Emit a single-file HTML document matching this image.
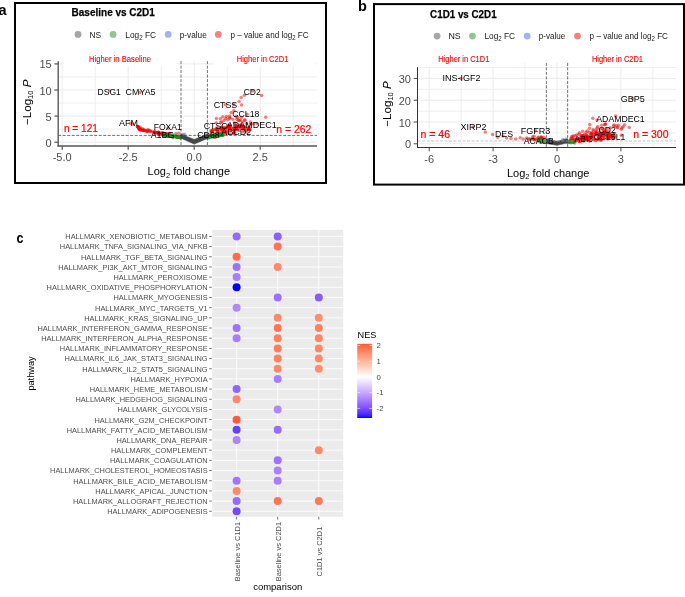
<!DOCTYPE html>
<html><head><meta charset="utf-8"><style>
html,body{margin:0;padding:0;background:#fff;width:685px;height:597px;overflow:hidden}
svg{display:block;will-change:transform} text{font-family:"Liberation Sans",sans-serif}
</style></head><body>
<svg width="685" height="597" viewBox="0 0 685 597" font-family='"Liberation Sans", sans-serif'><defs><linearGradient id="nes" x1="0" y1="0" x2="0" y2="1"><stop offset="0.000" stop-color="#ff5939"/><stop offset="0.025" stop-color="#ff6543"/><stop offset="0.050" stop-color="#ff6f4e"/><stop offset="0.075" stop-color="#ff7a58"/><stop offset="0.100" stop-color="#ff8363"/><stop offset="0.125" stop-color="#ff8d6e"/><stop offset="0.150" stop-color="#ff9679"/><stop offset="0.175" stop-color="#ffa083"/><stop offset="0.200" stop-color="#ffa98e"/><stop offset="0.225" stop-color="#ffb299"/><stop offset="0.250" stop-color="#ffbba4"/><stop offset="0.275" stop-color="#ffc3b0"/><stop offset="0.300" stop-color="#ffccbb"/><stop offset="0.325" stop-color="#ffd5c6"/><stop offset="0.350" stop-color="#ffded2"/><stop offset="0.375" stop-color="#ffe6dd"/><stop offset="0.400" stop-color="#ffefe9"/><stop offset="0.425" stop-color="#fff7f5"/><stop offset="0.450" stop-color="#fefeff"/><stop offset="0.475" stop-color="#f8f3ff"/><stop offset="0.500" stop-color="#f2e8ff"/><stop offset="0.525" stop-color="#ecdeff"/><stop offset="0.550" stop-color="#e5d3ff"/><stop offset="0.575" stop-color="#dfc9ff"/><stop offset="0.600" stop-color="#d8beff"/><stop offset="0.625" stop-color="#d1b4ff"/><stop offset="0.650" stop-color="#caa9ff"/><stop offset="0.675" stop-color="#c29fff"/><stop offset="0.700" stop-color="#ba95ff"/><stop offset="0.725" stop-color="#b28bff"/><stop offset="0.750" stop-color="#aa80ff"/><stop offset="0.775" stop-color="#a176ff"/><stop offset="0.800" stop-color="#986cff"/><stop offset="0.825" stop-color="#8e61ff"/><stop offset="0.850" stop-color="#8357ff"/><stop offset="0.875" stop-color="#784cff"/><stop offset="0.900" stop-color="#6b41ff"/><stop offset="0.925" stop-color="#5d35ff"/><stop offset="0.950" stop-color="#4c28ff"/><stop offset="0.975" stop-color="#3519ff"/><stop offset="1.000" stop-color="#0000ff"/></linearGradient></defs><rect x="15.00" y="3.00" width="311.00" height="180.00" fill="none" stroke="#000" stroke-width="2"/>
<text x="-1.60" y="14.70" font-size="14.5" fill="#000" font-weight="bold">a</text>
<text x="71.60" y="15.90" font-size="11.5" fill="#000" font-weight="bold" textLength="83.30" lengthAdjust="spacingAndGlyphs" stroke="#000" stroke-width="0.25">Baseline vs C2D1</text>
<circle cx="78.00" cy="34.40" r="3.4" fill="#4D4D4D" fill-opacity="0.5"/>
<text x="89.50" y="37.50" font-size="8.8" fill="#1A1A1A" textLength="11.70" lengthAdjust="spacingAndGlyphs">NS</text>
<circle cx="113.10" cy="34.40" r="3.4" fill="#228B22" fill-opacity="0.5"/>
<text x="125.30" y="37.50" font-size="8.8" fill="#1A1A1A" textLength="30.70" lengthAdjust="spacingAndGlyphs">Log<tspan font-size="6.5" dy="2">2</tspan><tspan dy="-2"> FC</tspan></text>
<circle cx="168.20" cy="34.40" r="3.4" fill="#4169E1" fill-opacity="0.5"/>
<text x="179.70" y="37.50" font-size="8.8" fill="#1A1A1A" textLength="27.10" lengthAdjust="spacingAndGlyphs">p-value</text>
<circle cx="218.30" cy="34.40" r="3.4" fill="#EE0000" fill-opacity="0.5"/>
<text x="230.40" y="37.50" font-size="8.8" fill="#1A1A1A" textLength="78.30" lengthAdjust="spacingAndGlyphs">p &#8211; value and log<tspan font-size="6.5" dy="2">2</tspan><tspan dy="-2"> FC</tspan></text>
<line x1="62.20" y1="61.10" x2="62.20" y2="145.95" stroke="#EBEBEB" stroke-width="1.0"/>
<line x1="128.20" y1="61.10" x2="128.20" y2="145.95" stroke="#EBEBEB" stroke-width="1.0"/>
<line x1="194.20" y1="61.10" x2="194.20" y2="145.95" stroke="#EBEBEB" stroke-width="1.0"/>
<line x1="260.20" y1="61.10" x2="260.20" y2="145.95" stroke="#EBEBEB" stroke-width="1.0"/>
<line x1="95.20" y1="61.10" x2="95.20" y2="145.95" stroke="#EBEBEB" stroke-width="0.85"/>
<line x1="161.20" y1="61.10" x2="161.20" y2="145.95" stroke="#EBEBEB" stroke-width="0.85"/>
<line x1="227.20" y1="61.10" x2="227.20" y2="145.95" stroke="#EBEBEB" stroke-width="0.85"/>
<line x1="293.20" y1="61.10" x2="293.20" y2="145.95" stroke="#EBEBEB" stroke-width="0.85"/>
<line x1="58.20" y1="142.20" x2="317.00" y2="142.20" stroke="#EBEBEB" stroke-width="1.0"/>
<line x1="58.20" y1="116.10" x2="317.00" y2="116.10" stroke="#EBEBEB" stroke-width="1.0"/>
<line x1="58.20" y1="90.00" x2="317.00" y2="90.00" stroke="#EBEBEB" stroke-width="1.0"/>
<line x1="58.20" y1="63.90" x2="317.00" y2="63.90" stroke="#EBEBEB" stroke-width="1.0"/>
<line x1="58.20" y1="129.15" x2="317.00" y2="129.15" stroke="#EBEBEB" stroke-width="0.85"/>
<line x1="58.20" y1="103.05" x2="317.00" y2="103.05" stroke="#EBEBEB" stroke-width="0.85"/>
<line x1="58.20" y1="76.95" x2="317.00" y2="76.95" stroke="#EBEBEB" stroke-width="0.85"/>
<rect x="63.7" y="60" width="112.7" height="6.799999999999997" fill="#fff"/>
<rect x="214" y="60" width="101.80000000000001" height="6.799999999999997" fill="#fff"/>
<text x="89.10" y="61.60" font-size="8.2" fill="#FF0000" textLength="61.90" lengthAdjust="spacingAndGlyphs" stroke="#FF0000" stroke-width="0.12">Higher in Baseline</text>
<text x="236.70" y="61.60" font-size="8.2" fill="#FF0000" textLength="51.80" lengthAdjust="spacingAndGlyphs" stroke="#FF0000" stroke-width="0.12">Higher in C2D1</text>
<circle cx="146.75" cy="131.16" r="1.75" fill="#EE0000" fill-opacity="0.5"/>
<circle cx="138.31" cy="127.38" r="1.75" fill="#EE0000" fill-opacity="0.5"/>
<circle cx="138.19" cy="127.10" r="1.75" fill="#EE0000" fill-opacity="0.5"/>
<circle cx="150.41" cy="131.33" r="1.75" fill="#EE0000" fill-opacity="0.5"/>
<circle cx="150.05" cy="130.86" r="1.75" fill="#EE0000" fill-opacity="0.5"/>
<circle cx="142.49" cy="128.79" r="1.75" fill="#EE0000" fill-opacity="0.5"/>
<circle cx="154.56" cy="133.40" r="1.75" fill="#EE0000" fill-opacity="0.5"/>
<circle cx="138.18" cy="126.41" r="1.75" fill="#EE0000" fill-opacity="0.5"/>
<circle cx="140.44" cy="129.69" r="1.75" fill="#EE0000" fill-opacity="0.5"/>
<circle cx="163.73" cy="134.38" r="1.75" fill="#EE0000" fill-opacity="0.5"/>
<circle cx="157.10" cy="133.33" r="1.75" fill="#EE0000" fill-opacity="0.5"/>
<circle cx="138.56" cy="127.39" r="1.75" fill="#EE0000" fill-opacity="0.5"/>
<circle cx="158.58" cy="133.22" r="1.75" fill="#EE0000" fill-opacity="0.5"/>
<circle cx="155.26" cy="132.63" r="1.75" fill="#EE0000" fill-opacity="0.5"/>
<circle cx="162.73" cy="133.13" r="1.75" fill="#EE0000" fill-opacity="0.5"/>
<circle cx="154.52" cy="132.19" r="1.75" fill="#EE0000" fill-opacity="0.5"/>
<circle cx="160.33" cy="134.87" r="1.75" fill="#EE0000" fill-opacity="0.5"/>
<circle cx="139.14" cy="129.27" r="1.75" fill="#EE0000" fill-opacity="0.5"/>
<circle cx="140.43" cy="129.40" r="1.75" fill="#EE0000" fill-opacity="0.5"/>
<circle cx="158.42" cy="132.15" r="1.75" fill="#EE0000" fill-opacity="0.5"/>
<circle cx="165.46" cy="134.80" r="1.75" fill="#EE0000" fill-opacity="0.5"/>
<circle cx="155.52" cy="132.24" r="1.75" fill="#EE0000" fill-opacity="0.5"/>
<circle cx="164.72" cy="133.54" r="1.75" fill="#EE0000" fill-opacity="0.5"/>
<circle cx="158.68" cy="133.26" r="1.75" fill="#EE0000" fill-opacity="0.5"/>
<circle cx="158.21" cy="132.78" r="1.75" fill="#EE0000" fill-opacity="0.5"/>
<circle cx="144.79" cy="130.80" r="1.75" fill="#EE0000" fill-opacity="0.5"/>
<circle cx="137.32" cy="126.21" r="1.75" fill="#EE0000" fill-opacity="0.5"/>
<circle cx="140.04" cy="129.12" r="1.75" fill="#EE0000" fill-opacity="0.5"/>
<circle cx="139.83" cy="129.68" r="1.75" fill="#EE0000" fill-opacity="0.5"/>
<circle cx="165.78" cy="134.25" r="1.75" fill="#EE0000" fill-opacity="0.5"/>
<circle cx="154.68" cy="131.44" r="1.75" fill="#EE0000" fill-opacity="0.5"/>
<circle cx="165.18" cy="134.50" r="1.75" fill="#EE0000" fill-opacity="0.5"/>
<circle cx="148.27" cy="129.67" r="1.75" fill="#EE0000" fill-opacity="0.5"/>
<circle cx="140.58" cy="129.78" r="1.75" fill="#EE0000" fill-opacity="0.5"/>
<circle cx="142.95" cy="129.97" r="1.75" fill="#EE0000" fill-opacity="0.5"/>
<circle cx="144.68" cy="130.09" r="1.75" fill="#EE0000" fill-opacity="0.5"/>
<circle cx="147.39" cy="130.13" r="1.75" fill="#EE0000" fill-opacity="0.5"/>
<circle cx="158.75" cy="132.96" r="1.75" fill="#EE0000" fill-opacity="0.5"/>
<circle cx="159.27" cy="133.40" r="1.75" fill="#EE0000" fill-opacity="0.5"/>
<circle cx="162.68" cy="132.72" r="1.75" fill="#EE0000" fill-opacity="0.5"/>
<circle cx="148.76" cy="131.04" r="1.75" fill="#EE0000" fill-opacity="0.5"/>
<circle cx="157.31" cy="132.85" r="1.75" fill="#EE0000" fill-opacity="0.5"/>
<circle cx="142.64" cy="130.21" r="1.75" fill="#EE0000" fill-opacity="0.5"/>
<circle cx="138.32" cy="126.96" r="1.75" fill="#EE0000" fill-opacity="0.5"/>
<circle cx="139.18" cy="128.42" r="1.75" fill="#EE0000" fill-opacity="0.5"/>
<circle cx="165.47" cy="133.72" r="1.75" fill="#EE0000" fill-opacity="0.5"/>
<circle cx="143.84" cy="130.48" r="1.75" fill="#EE0000" fill-opacity="0.5"/>
<circle cx="140.24" cy="127.37" r="1.75" fill="#EE0000" fill-opacity="0.5"/>
<circle cx="151.28" cy="131.51" r="1.75" fill="#EE0000" fill-opacity="0.5"/>
<circle cx="139.11" cy="128.73" r="1.75" fill="#EE0000" fill-opacity="0.5"/>
<circle cx="164.04" cy="133.83" r="1.75" fill="#EE0000" fill-opacity="0.5"/>
<circle cx="168.12" cy="134.23" r="1.75" fill="#EE0000" fill-opacity="0.5"/>
<circle cx="154.41" cy="132.25" r="1.75" fill="#EE0000" fill-opacity="0.5"/>
<circle cx="169.55" cy="133.70" r="1.75" fill="#EE0000" fill-opacity="0.5"/>
<circle cx="144.19" cy="130.34" r="1.75" fill="#EE0000" fill-opacity="0.5"/>
<circle cx="161.51" cy="133.23" r="1.75" fill="#EE0000" fill-opacity="0.5"/>
<circle cx="146.79" cy="131.57" r="1.75" fill="#EE0000" fill-opacity="0.5"/>
<circle cx="169.80" cy="133.57" r="1.75" fill="#EE0000" fill-opacity="0.5"/>
<circle cx="163.62" cy="133.24" r="1.75" fill="#EE0000" fill-opacity="0.5"/>
<circle cx="153.13" cy="132.03" r="1.75" fill="#EE0000" fill-opacity="0.5"/>
<circle cx="137.57" cy="126.73" r="1.75" fill="#EE0000" fill-opacity="0.5"/>
<circle cx="159.55" cy="132.88" r="1.75" fill="#EE0000" fill-opacity="0.5"/>
<circle cx="168.54" cy="134.11" r="1.75" fill="#EE0000" fill-opacity="0.5"/>
<circle cx="147.95" cy="131.13" r="1.75" fill="#EE0000" fill-opacity="0.5"/>
<circle cx="142.19" cy="130.47" r="1.75" fill="#EE0000" fill-opacity="0.5"/>
<circle cx="166.69" cy="133.49" r="1.75" fill="#EE0000" fill-opacity="0.5"/>
<circle cx="157.89" cy="132.62" r="1.75" fill="#EE0000" fill-opacity="0.5"/>
<circle cx="158.56" cy="132.33" r="1.75" fill="#EE0000" fill-opacity="0.5"/>
<circle cx="161.07" cy="133.39" r="1.75" fill="#EE0000" fill-opacity="0.5"/>
<circle cx="162.35" cy="134.46" r="1.75" fill="#EE0000" fill-opacity="0.5"/>
<circle cx="109.60" cy="91.10" r="1.75" fill="#EE0000" fill-opacity="0.5"/>
<circle cx="139.90" cy="92.50" r="1.75" fill="#EE0000" fill-opacity="0.5"/>
<circle cx="130.30" cy="123.20" r="1.75" fill="#EE0000" fill-opacity="0.5"/>
<circle cx="133.00" cy="124.00" r="1.75" fill="#EE0000" fill-opacity="0.5"/>
<circle cx="178.90" cy="133.20" r="1.75" fill="#EE0000" fill-opacity="0.5"/>
<circle cx="176.00" cy="133.50" r="1.75" fill="#EE0000" fill-opacity="0.5"/>
<circle cx="168.00" cy="128.30" r="1.75" fill="#EE0000" fill-opacity="0.5"/>
<circle cx="229.42" cy="133.61" r="1.75" fill="#EE0000" fill-opacity="0.5"/>
<circle cx="225.90" cy="127.97" r="1.75" fill="#EE0000" fill-opacity="0.5"/>
<circle cx="222.21" cy="130.18" r="1.75" fill="#EE0000" fill-opacity="0.5"/>
<circle cx="237.72" cy="127.17" r="1.75" fill="#EE0000" fill-opacity="0.5"/>
<circle cx="229.72" cy="127.27" r="1.75" fill="#EE0000" fill-opacity="0.5"/>
<circle cx="243.90" cy="127.62" r="1.75" fill="#EE0000" fill-opacity="0.5"/>
<circle cx="216.96" cy="134.77" r="1.75" fill="#EE0000" fill-opacity="0.5"/>
<circle cx="229.31" cy="127.03" r="1.75" fill="#EE0000" fill-opacity="0.5"/>
<circle cx="217.05" cy="130.13" r="1.75" fill="#EE0000" fill-opacity="0.5"/>
<circle cx="213.59" cy="129.81" r="1.75" fill="#EE0000" fill-opacity="0.5"/>
<circle cx="248.92" cy="128.94" r="1.75" fill="#EE0000" fill-opacity="0.5"/>
<circle cx="215.35" cy="137.13" r="1.75" fill="#EE0000" fill-opacity="0.5"/>
<circle cx="240.58" cy="124.93" r="1.75" fill="#EE0000" fill-opacity="0.5"/>
<circle cx="236.90" cy="129.61" r="1.75" fill="#EE0000" fill-opacity="0.5"/>
<circle cx="223.82" cy="128.98" r="1.75" fill="#EE0000" fill-opacity="0.5"/>
<circle cx="219.59" cy="129.24" r="1.75" fill="#EE0000" fill-opacity="0.5"/>
<circle cx="223.05" cy="135.59" r="1.75" fill="#EE0000" fill-opacity="0.5"/>
<circle cx="243.99" cy="130.34" r="1.75" fill="#EE0000" fill-opacity="0.5"/>
<circle cx="215.69" cy="129.42" r="1.75" fill="#EE0000" fill-opacity="0.5"/>
<circle cx="248.40" cy="127.97" r="1.75" fill="#EE0000" fill-opacity="0.5"/>
<circle cx="222.26" cy="128.18" r="1.75" fill="#EE0000" fill-opacity="0.5"/>
<circle cx="218.80" cy="134.17" r="1.75" fill="#EE0000" fill-opacity="0.5"/>
<circle cx="221.24" cy="128.22" r="1.75" fill="#EE0000" fill-opacity="0.5"/>
<circle cx="217.52" cy="130.92" r="1.75" fill="#EE0000" fill-opacity="0.5"/>
<circle cx="224.39" cy="127.89" r="1.75" fill="#EE0000" fill-opacity="0.5"/>
<circle cx="226.35" cy="131.16" r="1.75" fill="#EE0000" fill-opacity="0.5"/>
<circle cx="234.33" cy="128.93" r="1.75" fill="#EE0000" fill-opacity="0.5"/>
<circle cx="221.38" cy="129.39" r="1.75" fill="#EE0000" fill-opacity="0.5"/>
<circle cx="242.20" cy="125.57" r="1.75" fill="#EE0000" fill-opacity="0.5"/>
<circle cx="215.88" cy="134.66" r="1.75" fill="#EE0000" fill-opacity="0.5"/>
<circle cx="211.34" cy="131.23" r="1.75" fill="#EE0000" fill-opacity="0.5"/>
<circle cx="238.94" cy="130.53" r="1.75" fill="#EE0000" fill-opacity="0.5"/>
<circle cx="217.54" cy="130.13" r="1.75" fill="#EE0000" fill-opacity="0.5"/>
<circle cx="234.91" cy="133.60" r="1.75" fill="#EE0000" fill-opacity="0.5"/>
<circle cx="236.90" cy="126.14" r="1.75" fill="#EE0000" fill-opacity="0.5"/>
<circle cx="244.84" cy="128.47" r="1.75" fill="#EE0000" fill-opacity="0.5"/>
<circle cx="232.51" cy="129.54" r="1.75" fill="#EE0000" fill-opacity="0.5"/>
<circle cx="240.21" cy="127.19" r="1.75" fill="#EE0000" fill-opacity="0.5"/>
<circle cx="218.13" cy="127.81" r="1.75" fill="#EE0000" fill-opacity="0.5"/>
<circle cx="213.90" cy="136.44" r="1.75" fill="#EE0000" fill-opacity="0.5"/>
<circle cx="233.02" cy="128.91" r="1.75" fill="#EE0000" fill-opacity="0.5"/>
<circle cx="229.83" cy="127.62" r="1.75" fill="#EE0000" fill-opacity="0.5"/>
<circle cx="248.86" cy="129.53" r="1.75" fill="#EE0000" fill-opacity="0.5"/>
<circle cx="245.98" cy="130.56" r="1.75" fill="#EE0000" fill-opacity="0.5"/>
<circle cx="218.70" cy="135.00" r="1.75" fill="#EE0000" fill-opacity="0.5"/>
<circle cx="233.83" cy="132.87" r="1.75" fill="#EE0000" fill-opacity="0.5"/>
<circle cx="216.79" cy="129.48" r="1.75" fill="#EE0000" fill-opacity="0.5"/>
<circle cx="218.47" cy="132.59" r="1.75" fill="#EE0000" fill-opacity="0.5"/>
<circle cx="236.32" cy="127.25" r="1.75" fill="#EE0000" fill-opacity="0.5"/>
<circle cx="237.52" cy="127.00" r="1.75" fill="#EE0000" fill-opacity="0.5"/>
<circle cx="221.05" cy="127.25" r="1.75" fill="#EE0000" fill-opacity="0.5"/>
<circle cx="242.79" cy="131.90" r="1.75" fill="#EE0000" fill-opacity="0.5"/>
<circle cx="224.79" cy="131.93" r="1.75" fill="#EE0000" fill-opacity="0.5"/>
<circle cx="235.76" cy="125.73" r="1.75" fill="#EE0000" fill-opacity="0.5"/>
<circle cx="214.37" cy="133.89" r="1.75" fill="#EE0000" fill-opacity="0.5"/>
<circle cx="225.44" cy="128.32" r="1.75" fill="#EE0000" fill-opacity="0.5"/>
<circle cx="221.06" cy="132.15" r="1.75" fill="#EE0000" fill-opacity="0.5"/>
<circle cx="223.07" cy="130.12" r="1.75" fill="#EE0000" fill-opacity="0.5"/>
<circle cx="223.37" cy="127.16" r="1.75" fill="#EE0000" fill-opacity="0.5"/>
<circle cx="239.76" cy="127.25" r="1.75" fill="#EE0000" fill-opacity="0.5"/>
<circle cx="227.74" cy="126.69" r="1.75" fill="#EE0000" fill-opacity="0.5"/>
<circle cx="211.01" cy="132.90" r="1.75" fill="#EE0000" fill-opacity="0.5"/>
<circle cx="223.69" cy="131.31" r="1.75" fill="#EE0000" fill-opacity="0.5"/>
<circle cx="211.90" cy="131.12" r="1.75" fill="#EE0000" fill-opacity="0.5"/>
<circle cx="228.72" cy="125.22" r="1.75" fill="#EE0000" fill-opacity="0.5"/>
<circle cx="248.68" cy="129.74" r="1.75" fill="#EE0000" fill-opacity="0.5"/>
<circle cx="244.11" cy="126.66" r="1.75" fill="#EE0000" fill-opacity="0.5"/>
<circle cx="242.36" cy="127.50" r="1.75" fill="#EE0000" fill-opacity="0.5"/>
<circle cx="244.31" cy="126.97" r="1.75" fill="#EE0000" fill-opacity="0.5"/>
<circle cx="216.82" cy="129.90" r="1.75" fill="#EE0000" fill-opacity="0.5"/>
<circle cx="230.31" cy="129.68" r="1.75" fill="#EE0000" fill-opacity="0.5"/>
<circle cx="241.09" cy="125.01" r="1.75" fill="#EE0000" fill-opacity="0.5"/>
<circle cx="233.98" cy="131.93" r="1.75" fill="#EE0000" fill-opacity="0.5"/>
<circle cx="235.22" cy="128.63" r="1.75" fill="#EE0000" fill-opacity="0.5"/>
<circle cx="225.90" cy="132.37" r="1.75" fill="#EE0000" fill-opacity="0.5"/>
<circle cx="226.16" cy="133.39" r="1.75" fill="#EE0000" fill-opacity="0.5"/>
<circle cx="227.11" cy="130.42" r="1.75" fill="#EE0000" fill-opacity="0.5"/>
<circle cx="229.03" cy="127.68" r="1.75" fill="#EE0000" fill-opacity="0.5"/>
<circle cx="227.62" cy="126.92" r="1.75" fill="#EE0000" fill-opacity="0.5"/>
<circle cx="228.29" cy="125.95" r="1.75" fill="#EE0000" fill-opacity="0.5"/>
<circle cx="212.78" cy="130.31" r="1.75" fill="#EE0000" fill-opacity="0.5"/>
<circle cx="211.13" cy="130.47" r="1.75" fill="#EE0000" fill-opacity="0.5"/>
<circle cx="229.96" cy="125.05" r="1.75" fill="#EE0000" fill-opacity="0.5"/>
<circle cx="235.64" cy="125.61" r="1.75" fill="#EE0000" fill-opacity="0.5"/>
<circle cx="230.02" cy="125.23" r="1.75" fill="#EE0000" fill-opacity="0.5"/>
<circle cx="229.68" cy="129.60" r="1.75" fill="#EE0000" fill-opacity="0.5"/>
<circle cx="241.03" cy="126.64" r="1.75" fill="#EE0000" fill-opacity="0.5"/>
<circle cx="247.34" cy="128.21" r="1.75" fill="#EE0000" fill-opacity="0.5"/>
<circle cx="243.70" cy="126.44" r="1.75" fill="#EE0000" fill-opacity="0.5"/>
<circle cx="216.37" cy="128.05" r="1.75" fill="#EE0000" fill-opacity="0.5"/>
<circle cx="229.77" cy="128.81" r="1.75" fill="#EE0000" fill-opacity="0.5"/>
<circle cx="214.26" cy="137.14" r="1.75" fill="#EE0000" fill-opacity="0.5"/>
<circle cx="214.59" cy="135.10" r="1.75" fill="#EE0000" fill-opacity="0.5"/>
<circle cx="212.18" cy="131.66" r="1.75" fill="#EE0000" fill-opacity="0.5"/>
<circle cx="235.63" cy="129.36" r="1.75" fill="#EE0000" fill-opacity="0.5"/>
<circle cx="246.28" cy="131.99" r="1.75" fill="#EE0000" fill-opacity="0.5"/>
<circle cx="235.34" cy="129.82" r="1.75" fill="#EE0000" fill-opacity="0.5"/>
<circle cx="242.90" cy="128.07" r="1.75" fill="#EE0000" fill-opacity="0.5"/>
<circle cx="223.21" cy="134.82" r="1.75" fill="#EE0000" fill-opacity="0.5"/>
<circle cx="226.90" cy="126.89" r="1.75" fill="#EE0000" fill-opacity="0.5"/>
<circle cx="240.46" cy="125.15" r="1.75" fill="#EE0000" fill-opacity="0.5"/>
<circle cx="243.89" cy="127.92" r="1.75" fill="#EE0000" fill-opacity="0.5"/>
<circle cx="233.36" cy="133.46" r="1.75" fill="#EE0000" fill-opacity="0.5"/>
<circle cx="234.72" cy="130.34" r="1.75" fill="#EE0000" fill-opacity="0.5"/>
<circle cx="236.39" cy="124.80" r="1.75" fill="#EE0000" fill-opacity="0.5"/>
<circle cx="221.87" cy="122.00" r="1.75" fill="#EE0000" fill-opacity="0.5"/>
<circle cx="237.92" cy="117.45" r="1.75" fill="#EE0000" fill-opacity="0.5"/>
<circle cx="239.45" cy="120.70" r="1.75" fill="#EE0000" fill-opacity="0.5"/>
<circle cx="222.72" cy="116.79" r="1.75" fill="#EE0000" fill-opacity="0.5"/>
<circle cx="216.22" cy="122.66" r="1.75" fill="#EE0000" fill-opacity="0.5"/>
<circle cx="250.34" cy="124.39" r="1.75" fill="#EE0000" fill-opacity="0.5"/>
<circle cx="229.69" cy="118.17" r="1.75" fill="#EE0000" fill-opacity="0.5"/>
<circle cx="236.74" cy="119.20" r="1.75" fill="#EE0000" fill-opacity="0.5"/>
<circle cx="240.41" cy="120.33" r="1.75" fill="#EE0000" fill-opacity="0.5"/>
<circle cx="253.23" cy="123.80" r="1.75" fill="#EE0000" fill-opacity="0.5"/>
<circle cx="229.86" cy="117.85" r="1.75" fill="#EE0000" fill-opacity="0.5"/>
<circle cx="220.78" cy="122.30" r="1.75" fill="#EE0000" fill-opacity="0.5"/>
<circle cx="234.31" cy="122.70" r="1.75" fill="#EE0000" fill-opacity="0.5"/>
<circle cx="225.61" cy="118.60" r="1.75" fill="#EE0000" fill-opacity="0.5"/>
<circle cx="246.45" cy="123.58" r="1.75" fill="#EE0000" fill-opacity="0.5"/>
<circle cx="244.79" cy="120.58" r="1.75" fill="#EE0000" fill-opacity="0.5"/>
<circle cx="261.70" cy="95.40" r="1.75" fill="#EE0000" fill-opacity="0.5"/>
<circle cx="252.60" cy="91.10" r="1.75" fill="#EE0000" fill-opacity="0.5"/>
<circle cx="244.40" cy="95.20" r="1.75" fill="#EE0000" fill-opacity="0.5"/>
<circle cx="241.10" cy="97.50" r="1.75" fill="#EE0000" fill-opacity="0.5"/>
<circle cx="239.10" cy="101.40" r="1.75" fill="#EE0000" fill-opacity="0.5"/>
<circle cx="241.50" cy="104.90" r="1.75" fill="#EE0000" fill-opacity="0.5"/>
<circle cx="233.90" cy="104.80" r="1.75" fill="#EE0000" fill-opacity="0.5"/>
<circle cx="225.50" cy="104.80" r="1.75" fill="#EE0000" fill-opacity="0.5"/>
<circle cx="233.90" cy="110.40" r="1.75" fill="#EE0000" fill-opacity="0.5"/>
<circle cx="231.20" cy="112.60" r="1.75" fill="#EE0000" fill-opacity="0.5"/>
<circle cx="247.10" cy="114.20" r="1.75" fill="#EE0000" fill-opacity="0.5"/>
<circle cx="265.70" cy="117.30" r="1.75" fill="#EE0000" fill-opacity="0.5"/>
<circle cx="216.40" cy="118.40" r="1.75" fill="#EE0000" fill-opacity="0.5"/>
<circle cx="220.30" cy="118.80" r="1.75" fill="#EE0000" fill-opacity="0.5"/>
<circle cx="226.30" cy="116.40" r="1.75" fill="#EE0000" fill-opacity="0.5"/>
<circle cx="229.60" cy="115.90" r="1.75" fill="#EE0000" fill-opacity="0.5"/>
<circle cx="236.10" cy="116.40" r="1.75" fill="#EE0000" fill-opacity="0.5"/>
<circle cx="241.60" cy="117.50" r="1.75" fill="#EE0000" fill-opacity="0.5"/>
<circle cx="244.90" cy="119.70" r="1.75" fill="#EE0000" fill-opacity="0.5"/>
<circle cx="224.10" cy="120.30" r="1.75" fill="#EE0000" fill-opacity="0.5"/>
<circle cx="227.90" cy="119.70" r="1.75" fill="#EE0000" fill-opacity="0.5"/>
<circle cx="232.80" cy="119.20" r="1.75" fill="#EE0000" fill-opacity="0.5"/>
<circle cx="238.30" cy="120.30" r="1.75" fill="#EE0000" fill-opacity="0.5"/>
<circle cx="242.70" cy="121.90" r="1.75" fill="#EE0000" fill-opacity="0.5"/>
<circle cx="250.40" cy="121.90" r="1.75" fill="#EE0000" fill-opacity="0.5"/>
<circle cx="256.90" cy="123.50" r="1.75" fill="#EE0000" fill-opacity="0.5"/>
<circle cx="249.30" cy="127.40" r="1.75" fill="#EE0000" fill-opacity="0.5"/>
<circle cx="250.40" cy="129.60" r="1.75" fill="#EE0000" fill-opacity="0.5"/>
<circle cx="180.31" cy="137.61" r="1.75" fill="#228B22" fill-opacity="0.5"/>
<circle cx="180.02" cy="137.00" r="1.75" fill="#228B22" fill-opacity="0.5"/>
<circle cx="165.57" cy="136.10" r="1.75" fill="#228B22" fill-opacity="0.5"/>
<circle cx="177.77" cy="137.60" r="1.75" fill="#228B22" fill-opacity="0.5"/>
<circle cx="180.53" cy="137.00" r="1.75" fill="#228B22" fill-opacity="0.5"/>
<circle cx="172.90" cy="136.37" r="1.75" fill="#228B22" fill-opacity="0.5"/>
<circle cx="180.31" cy="136.89" r="1.75" fill="#228B22" fill-opacity="0.5"/>
<circle cx="179.39" cy="137.61" r="1.75" fill="#228B22" fill-opacity="0.5"/>
<circle cx="177.91" cy="137.32" r="1.75" fill="#228B22" fill-opacity="0.5"/>
<circle cx="168.29" cy="136.30" r="1.75" fill="#228B22" fill-opacity="0.5"/>
<circle cx="167.56" cy="135.74" r="1.75" fill="#228B22" fill-opacity="0.5"/>
<circle cx="179.23" cy="137.58" r="1.75" fill="#228B22" fill-opacity="0.5"/>
<circle cx="173.69" cy="136.13" r="1.75" fill="#228B22" fill-opacity="0.5"/>
<circle cx="179.24" cy="137.20" r="1.75" fill="#228B22" fill-opacity="0.5"/>
<circle cx="172.66" cy="136.31" r="1.75" fill="#228B22" fill-opacity="0.5"/>
<circle cx="166.70" cy="135.46" r="1.75" fill="#228B22" fill-opacity="0.5"/>
<circle cx="165.75" cy="135.53" r="1.75" fill="#228B22" fill-opacity="0.5"/>
<circle cx="172.89" cy="136.82" r="1.75" fill="#228B22" fill-opacity="0.5"/>
<circle cx="173.02" cy="136.12" r="1.75" fill="#228B22" fill-opacity="0.5"/>
<circle cx="173.09" cy="136.71" r="1.75" fill="#228B22" fill-opacity="0.5"/>
<circle cx="176.61" cy="136.83" r="1.75" fill="#228B22" fill-opacity="0.5"/>
<circle cx="176.89" cy="136.57" r="1.75" fill="#228B22" fill-opacity="0.5"/>
<circle cx="173.76" cy="136.45" r="1.75" fill="#228B22" fill-opacity="0.5"/>
<circle cx="175.20" cy="136.83" r="1.75" fill="#228B22" fill-opacity="0.5"/>
<circle cx="171.93" cy="135.90" r="1.75" fill="#228B22" fill-opacity="0.5"/>
<circle cx="178.94" cy="136.98" r="1.75" fill="#228B22" fill-opacity="0.5"/>
<circle cx="173.47" cy="136.04" r="1.75" fill="#228B22" fill-opacity="0.5"/>
<circle cx="165.64" cy="135.67" r="1.75" fill="#228B22" fill-opacity="0.5"/>
<circle cx="164.31" cy="135.35" r="1.75" fill="#228B22" fill-opacity="0.5"/>
<circle cx="175.15" cy="135.67" r="1.75" fill="#228B22" fill-opacity="0.5"/>
<circle cx="165.71" cy="134.72" r="1.75" fill="#228B22" fill-opacity="0.5"/>
<circle cx="166.01" cy="134.55" r="1.75" fill="#228B22" fill-opacity="0.5"/>
<circle cx="167.17" cy="135.39" r="1.75" fill="#228B22" fill-opacity="0.5"/>
<circle cx="172.20" cy="136.12" r="1.75" fill="#228B22" fill-opacity="0.5"/>
<circle cx="165.66" cy="135.61" r="1.75" fill="#228B22" fill-opacity="0.5"/>
<circle cx="169.17" cy="136.19" r="1.75" fill="#228B22" fill-opacity="0.5"/>
<circle cx="176.28" cy="136.80" r="1.75" fill="#228B22" fill-opacity="0.5"/>
<circle cx="171.13" cy="136.10" r="1.75" fill="#228B22" fill-opacity="0.5"/>
<circle cx="174.15" cy="136.48" r="1.75" fill="#228B22" fill-opacity="0.5"/>
<circle cx="180.87" cy="136.20" r="1.75" fill="#228B22" fill-opacity="0.5"/>
<circle cx="164.88" cy="135.38" r="1.75" fill="#228B22" fill-opacity="0.5"/>
<circle cx="177.01" cy="137.10" r="1.75" fill="#228B22" fill-opacity="0.5"/>
<circle cx="170.95" cy="135.57" r="1.75" fill="#228B22" fill-opacity="0.5"/>
<circle cx="167.95" cy="136.43" r="1.75" fill="#228B22" fill-opacity="0.5"/>
<circle cx="173.24" cy="136.18" r="1.75" fill="#228B22" fill-opacity="0.5"/>
<circle cx="163.95" cy="134.70" r="1.75" fill="#228B22" fill-opacity="0.5"/>
<circle cx="164.60" cy="134.93" r="1.75" fill="#228B22" fill-opacity="0.5"/>
<circle cx="177.81" cy="137.37" r="1.75" fill="#228B22" fill-opacity="0.5"/>
<circle cx="164.36" cy="134.78" r="1.75" fill="#228B22" fill-opacity="0.5"/>
<circle cx="168.62" cy="135.48" r="1.75" fill="#228B22" fill-opacity="0.5"/>
<circle cx="168.01" cy="136.04" r="1.75" fill="#228B22" fill-opacity="0.5"/>
<circle cx="167.40" cy="135.74" r="1.75" fill="#228B22" fill-opacity="0.5"/>
<circle cx="163.96" cy="135.49" r="1.75" fill="#228B22" fill-opacity="0.5"/>
<circle cx="168.50" cy="135.36" r="1.75" fill="#228B22" fill-opacity="0.5"/>
<circle cx="172.09" cy="136.57" r="1.75" fill="#228B22" fill-opacity="0.5"/>
<circle cx="163.33" cy="135.12" r="1.75" fill="#228B22" fill-opacity="0.5"/>
<circle cx="176.06" cy="136.67" r="1.75" fill="#228B22" fill-opacity="0.5"/>
<circle cx="171.64" cy="136.05" r="1.75" fill="#228B22" fill-opacity="0.5"/>
<circle cx="177.50" cy="137.18" r="1.75" fill="#228B22" fill-opacity="0.5"/>
<circle cx="177.81" cy="137.34" r="1.75" fill="#228B22" fill-opacity="0.5"/>
<circle cx="175.58" cy="136.61" r="1.75" fill="#228B22" fill-opacity="0.5"/>
<circle cx="177.90" cy="136.38" r="1.75" fill="#228B22" fill-opacity="0.5"/>
<circle cx="170.24" cy="136.09" r="1.75" fill="#228B22" fill-opacity="0.5"/>
<circle cx="165.67" cy="135.63" r="1.75" fill="#228B22" fill-opacity="0.5"/>
<circle cx="167.65" cy="135.78" r="1.75" fill="#228B22" fill-opacity="0.5"/>
<circle cx="178.37" cy="136.53" r="1.75" fill="#228B22" fill-opacity="0.5"/>
<circle cx="168.08" cy="136.05" r="1.75" fill="#228B22" fill-opacity="0.5"/>
<circle cx="171.40" cy="136.51" r="1.75" fill="#228B22" fill-opacity="0.5"/>
<circle cx="168.32" cy="135.34" r="1.75" fill="#228B22" fill-opacity="0.5"/>
<circle cx="172.87" cy="137.48" r="1.75" fill="#228B22" fill-opacity="0.5"/>
<circle cx="168.57" cy="135.76" r="1.75" fill="#228B22" fill-opacity="0.5"/>
<circle cx="169.61" cy="136.00" r="1.75" fill="#228B22" fill-opacity="0.5"/>
<circle cx="166.60" cy="135.48" r="1.75" fill="#228B22" fill-opacity="0.5"/>
<circle cx="167.95" cy="135.88" r="1.75" fill="#228B22" fill-opacity="0.5"/>
<circle cx="163.94" cy="135.15" r="1.75" fill="#228B22" fill-opacity="0.5"/>
<circle cx="166.95" cy="135.28" r="1.75" fill="#228B22" fill-opacity="0.5"/>
<circle cx="176.31" cy="136.20" r="1.75" fill="#228B22" fill-opacity="0.5"/>
<circle cx="178.67" cy="137.37" r="1.75" fill="#228B22" fill-opacity="0.5"/>
<circle cx="180.94" cy="137.95" r="1.75" fill="#228B22" fill-opacity="0.5"/>
<circle cx="174.99" cy="136.78" r="1.75" fill="#228B22" fill-opacity="0.5"/>
<circle cx="221.07" cy="134.09" r="1.75" fill="#228B22" fill-opacity="0.5"/>
<circle cx="220.27" cy="135.27" r="1.75" fill="#228B22" fill-opacity="0.5"/>
<circle cx="215.54" cy="135.05" r="1.75" fill="#228B22" fill-opacity="0.5"/>
<circle cx="219.91" cy="134.33" r="1.75" fill="#228B22" fill-opacity="0.5"/>
<circle cx="218.04" cy="134.92" r="1.75" fill="#228B22" fill-opacity="0.5"/>
<circle cx="208.13" cy="137.24" r="1.75" fill="#228B22" fill-opacity="0.5"/>
<circle cx="209.28" cy="136.26" r="1.75" fill="#228B22" fill-opacity="0.5"/>
<circle cx="217.01" cy="134.90" r="1.75" fill="#228B22" fill-opacity="0.5"/>
<circle cx="215.51" cy="135.81" r="1.75" fill="#228B22" fill-opacity="0.5"/>
<circle cx="218.83" cy="135.02" r="1.75" fill="#228B22" fill-opacity="0.5"/>
<circle cx="218.07" cy="135.59" r="1.75" fill="#228B22" fill-opacity="0.5"/>
<circle cx="211.58" cy="136.56" r="1.75" fill="#228B22" fill-opacity="0.5"/>
<circle cx="218.92" cy="135.80" r="1.75" fill="#228B22" fill-opacity="0.5"/>
<circle cx="222.40" cy="134.39" r="1.75" fill="#228B22" fill-opacity="0.5"/>
<circle cx="214.79" cy="135.12" r="1.75" fill="#228B22" fill-opacity="0.5"/>
<circle cx="217.02" cy="135.28" r="1.75" fill="#228B22" fill-opacity="0.5"/>
<circle cx="209.78" cy="137.39" r="1.75" fill="#228B22" fill-opacity="0.5"/>
<circle cx="212.20" cy="136.24" r="1.75" fill="#228B22" fill-opacity="0.5"/>
<circle cx="208.40" cy="137.52" r="1.75" fill="#228B22" fill-opacity="0.5"/>
<circle cx="218.16" cy="134.87" r="1.75" fill="#228B22" fill-opacity="0.5"/>
<circle cx="215.28" cy="135.82" r="1.75" fill="#228B22" fill-opacity="0.5"/>
<circle cx="209.46" cy="136.53" r="1.75" fill="#228B22" fill-opacity="0.5"/>
<circle cx="222.70" cy="134.33" r="1.75" fill="#228B22" fill-opacity="0.5"/>
<circle cx="214.89" cy="134.81" r="1.75" fill="#228B22" fill-opacity="0.5"/>
<circle cx="214.47" cy="136.21" r="1.75" fill="#228B22" fill-opacity="0.5"/>
<circle cx="222.23" cy="135.03" r="1.75" fill="#228B22" fill-opacity="0.5"/>
<circle cx="209.15" cy="136.49" r="1.75" fill="#228B22" fill-opacity="0.5"/>
<circle cx="209.68" cy="136.20" r="1.75" fill="#228B22" fill-opacity="0.5"/>
<circle cx="221.20" cy="134.32" r="1.75" fill="#228B22" fill-opacity="0.5"/>
<circle cx="221.37" cy="134.61" r="1.75" fill="#228B22" fill-opacity="0.5"/>
<circle cx="207.31" cy="137.02" r="1.75" fill="#228B22" fill-opacity="0.5"/>
<circle cx="212.33" cy="136.60" r="1.75" fill="#228B22" fill-opacity="0.5"/>
<circle cx="212.42" cy="136.22" r="1.75" fill="#228B22" fill-opacity="0.5"/>
<circle cx="219.21" cy="134.84" r="1.75" fill="#228B22" fill-opacity="0.5"/>
<circle cx="221.75" cy="133.57" r="1.75" fill="#228B22" fill-opacity="0.5"/>
<circle cx="211.85" cy="136.63" r="1.75" fill="#228B22" fill-opacity="0.5"/>
<circle cx="222.80" cy="134.08" r="1.75" fill="#228B22" fill-opacity="0.5"/>
<circle cx="214.15" cy="136.11" r="1.75" fill="#228B22" fill-opacity="0.5"/>
<circle cx="209.18" cy="136.44" r="1.75" fill="#228B22" fill-opacity="0.5"/>
<circle cx="222.00" cy="134.84" r="1.75" fill="#228B22" fill-opacity="0.5"/>
<circle cx="215.52" cy="136.13" r="1.75" fill="#228B22" fill-opacity="0.5"/>
<circle cx="222.63" cy="133.88" r="1.75" fill="#228B22" fill-opacity="0.5"/>
<circle cx="217.75" cy="134.82" r="1.75" fill="#228B22" fill-opacity="0.5"/>
<circle cx="216.02" cy="135.48" r="1.75" fill="#228B22" fill-opacity="0.5"/>
<circle cx="218.50" cy="135.31" r="1.75" fill="#228B22" fill-opacity="0.5"/>
<circle cx="217.49" cy="135.48" r="1.75" fill="#228B22" fill-opacity="0.5"/>
<circle cx="222.05" cy="134.88" r="1.75" fill="#228B22" fill-opacity="0.5"/>
<circle cx="212.74" cy="136.88" r="1.75" fill="#228B22" fill-opacity="0.5"/>
<circle cx="222.61" cy="135.03" r="1.75" fill="#228B22" fill-opacity="0.5"/>
<circle cx="211.97" cy="136.12" r="1.75" fill="#228B22" fill-opacity="0.5"/>
<circle cx="210.18" cy="136.86" r="1.75" fill="#228B22" fill-opacity="0.5"/>
<circle cx="221.39" cy="134.58" r="1.75" fill="#228B22" fill-opacity="0.5"/>
<circle cx="221.80" cy="134.56" r="1.75" fill="#228B22" fill-opacity="0.5"/>
<circle cx="209.71" cy="136.85" r="1.75" fill="#228B22" fill-opacity="0.5"/>
<circle cx="212.96" cy="136.36" r="1.75" fill="#228B22" fill-opacity="0.5"/>
<circle cx="211.09" cy="135.98" r="1.75" fill="#228B22" fill-opacity="0.5"/>
<circle cx="218.93" cy="135.27" r="1.75" fill="#228B22" fill-opacity="0.5"/>
<circle cx="215.50" cy="135.98" r="1.75" fill="#228B22" fill-opacity="0.5"/>
<circle cx="208.36" cy="138.01" r="1.75" fill="#228B22" fill-opacity="0.5"/>
<circle cx="209.14" cy="136.69" r="1.75" fill="#228B22" fill-opacity="0.5"/>
<circle cx="220.92" cy="135.05" r="1.75" fill="#228B22" fill-opacity="0.5"/>
<circle cx="211.17" cy="136.69" r="1.75" fill="#228B22" fill-opacity="0.5"/>
<circle cx="222.55" cy="133.69" r="1.75" fill="#228B22" fill-opacity="0.5"/>
<circle cx="208.19" cy="137.09" r="1.75" fill="#228B22" fill-opacity="0.5"/>
<circle cx="221.09" cy="134.70" r="1.75" fill="#228B22" fill-opacity="0.5"/>
<circle cx="207.10" cy="137.65" r="1.75" fill="#228B22" fill-opacity="0.5"/>
<circle cx="220.67" cy="133.86" r="1.75" fill="#228B22" fill-opacity="0.5"/>
<circle cx="211.47" cy="136.57" r="1.75" fill="#228B22" fill-opacity="0.5"/>
<circle cx="215.39" cy="134.72" r="1.75" fill="#228B22" fill-opacity="0.5"/>
<circle cx="218.47" cy="134.50" r="1.75" fill="#228B22" fill-opacity="0.5"/>
<circle cx="214.55" cy="135.84" r="1.75" fill="#228B22" fill-opacity="0.5"/>
<circle cx="219.69" cy="135.94" r="1.75" fill="#228B22" fill-opacity="0.5"/>
<circle cx="217.48" cy="135.56" r="1.75" fill="#228B22" fill-opacity="0.5"/>
<circle cx="211.19" cy="135.87" r="1.75" fill="#228B22" fill-opacity="0.5"/>
<circle cx="209.49" cy="136.97" r="1.75" fill="#228B22" fill-opacity="0.5"/>
<circle cx="216.43" cy="135.73" r="1.75" fill="#228B22" fill-opacity="0.5"/>
<circle cx="217.02" cy="135.49" r="1.75" fill="#228B22" fill-opacity="0.5"/>
<circle cx="214.97" cy="135.71" r="1.75" fill="#228B22" fill-opacity="0.5"/>
<circle cx="221.04" cy="134.69" r="1.75" fill="#228B22" fill-opacity="0.5"/>
<circle cx="211.68" cy="136.24" r="1.75" fill="#228B22" fill-opacity="0.5"/>
<circle cx="184.50" cy="134.20" r="1.75" fill="#4169E1" fill-opacity="0.5"/>
<circle cx="205.50" cy="134.50" r="1.75" fill="#4169E1" fill-opacity="0.5"/>
<circle cx="183.00" cy="134.60" r="1.75" fill="#4169E1" fill-opacity="0.5"/>
<polygon points="181,134.2 194.2,139.4 207.5,134.2 207.5,138.4 194.2,144.1 181,138.2" fill="#454545" stroke="#454545" stroke-width="0.6" stroke-linejoin="round"/>
<line x1="181.00" y1="61.10" x2="181.00" y2="145.95" stroke="#333333" stroke-width="0.7" stroke-dasharray="3,1.5"/>
<line x1="207.40" y1="61.10" x2="207.40" y2="145.95" stroke="#333333" stroke-width="0.7" stroke-dasharray="3,1.5"/>
<line x1="58.20" y1="135.41" x2="317.00" y2="135.41" stroke="#333333" stroke-width="0.7" stroke-dasharray="3,1.5"/>
<text x="97.60" y="95.30" font-size="8.9" fill="#000" textLength="23.20" lengthAdjust="spacingAndGlyphs">DSG1</text>
<text x="125.60" y="95.30" font-size="8.9" fill="#000" textLength="29.90" lengthAdjust="spacingAndGlyphs">CMYA5</text>
<text x="119.10" y="126.30" font-size="8.9" fill="#000" textLength="18.90" lengthAdjust="spacingAndGlyphs">AFM</text>
<text x="153.70" y="130.10" font-size="8.9" fill="#000" textLength="28.10" lengthAdjust="spacingAndGlyphs">FOXA1</text>
<text x="150.70" y="138.10" font-size="8.9" fill="#000" textLength="23.70" lengthAdjust="spacingAndGlyphs">A1BG</text>
<text x="243.70" y="94.50" font-size="8.9" fill="#000" textLength="17.00" lengthAdjust="spacingAndGlyphs">CD2</text>
<text x="213.70" y="108.10" font-size="8.9" fill="#000" textLength="23.50" lengthAdjust="spacingAndGlyphs">CTSS</text>
<text x="232.20" y="116.80" font-size="8.9" fill="#000" textLength="27.30" lengthAdjust="spacingAndGlyphs">CCL18</text>
<text x="226.70" y="127.80" font-size="8.9" fill="#000" textLength="50.00" lengthAdjust="spacingAndGlyphs">ADAMDEC1</text>
<text x="203.70" y="128.50" font-size="8.9" fill="#000" textLength="24.00" lengthAdjust="spacingAndGlyphs">CTSC</text>
<text x="221.30" y="135.10" font-size="8.9" fill="#000" textLength="29.90" lengthAdjust="spacingAndGlyphs">ABCD2</text>
<text x="197.20" y="138.30" font-size="8.9" fill="#000" textLength="22.50" lengthAdjust="spacingAndGlyphs">CD68</text>
<text x="63.90" y="132.30" font-size="10.7" fill="#FF0000" textLength="34.00" lengthAdjust="spacingAndGlyphs" stroke="#FF0000" stroke-width="0.2">n = 121</text>
<text x="276.30" y="132.60" font-size="10.7" fill="#FF0000" textLength="35.10" lengthAdjust="spacingAndGlyphs" stroke="#FF0000" stroke-width="0.2">n = 262</text>
<line x1="58.20" y1="61.30" x2="58.20" y2="146.62" stroke="#555555" stroke-width="1.35"/>
<line x1="57.53" y1="145.95" x2="317.00" y2="145.95" stroke="#555555" stroke-width="1.35"/>
<line x1="62.20" y1="145.95" x2="62.20" y2="149.75" stroke="#555555" stroke-width="1.215"/>
<text x="62.20" y="161.00" font-size="11" fill="#4D4D4D" text-anchor="middle">-5.0</text>
<line x1="128.20" y1="145.95" x2="128.20" y2="149.75" stroke="#555555" stroke-width="1.215"/>
<text x="128.20" y="161.00" font-size="11" fill="#4D4D4D" text-anchor="middle">-2.5</text>
<line x1="194.20" y1="145.95" x2="194.20" y2="149.75" stroke="#555555" stroke-width="1.215"/>
<text x="194.20" y="161.00" font-size="11" fill="#4D4D4D" text-anchor="middle">0.0</text>
<line x1="260.20" y1="145.95" x2="260.20" y2="149.75" stroke="#555555" stroke-width="1.215"/>
<text x="260.20" y="161.00" font-size="11" fill="#4D4D4D" text-anchor="middle">2.5</text>
<line x1="54.40" y1="142.20" x2="58.20" y2="142.20" stroke="#555555" stroke-width="1.215"/>
<text x="51.70" y="146.70" font-size="11" fill="#4D4D4D" text-anchor="end">0</text>
<line x1="54.40" y1="116.10" x2="58.20" y2="116.10" stroke="#555555" stroke-width="1.215"/>
<text x="51.70" y="120.60" font-size="11" fill="#4D4D4D" text-anchor="end">5</text>
<line x1="54.40" y1="90.00" x2="58.20" y2="90.00" stroke="#555555" stroke-width="1.215"/>
<text x="51.70" y="94.50" font-size="11" fill="#4D4D4D" text-anchor="end">10</text>
<line x1="54.40" y1="63.90" x2="58.20" y2="63.90" stroke="#555555" stroke-width="1.215"/>
<text x="51.70" y="68.40" font-size="11" fill="#4D4D4D" text-anchor="end">15</text>
<text x="147.60" y="175.40" font-size="11" fill="#000">Log<tspan font-size="7.5" dy="2.5">2</tspan><tspan dy="-2.5"> fold change</tspan></text>
<text transform="translate(30.60,102.30) rotate(-90)" font-size="11.6" fill="#000" text-anchor="middle">&#8722;Log<tspan font-size="7.5" dy="2.5">10</tspan><tspan dy="-2.5" font-style="italic"> P</tspan></text>
<rect x="374.00" y="4.10" width="310.00" height="180.50" fill="none" stroke="#000" stroke-width="2"/>
<text x="358.00" y="10.50" font-size="14.5" fill="#000" font-weight="bold">b</text>
<text x="430.10" y="18.20" font-size="11.5" fill="#000" font-weight="bold" textLength="66.50" lengthAdjust="spacingAndGlyphs" stroke="#000" stroke-width="0.25">C1D1 vs C2D1</text>
<circle cx="437.10" cy="36.10" r="3.4" fill="#4D4D4D" fill-opacity="0.5"/>
<text x="448.40" y="39.20" font-size="8.8" fill="#1A1A1A" textLength="12.30" lengthAdjust="spacingAndGlyphs">NS</text>
<circle cx="472.50" cy="36.10" r="3.4" fill="#228B22" fill-opacity="0.5"/>
<text x="484.40" y="39.20" font-size="8.8" fill="#1A1A1A" textLength="30.70" lengthAdjust="spacingAndGlyphs">Log<tspan font-size="6.5" dy="2">2</tspan><tspan dy="-2"> FC</tspan></text>
<circle cx="527.20" cy="36.10" r="3.4" fill="#4169E1" fill-opacity="0.5"/>
<text x="538.80" y="39.20" font-size="8.8" fill="#1A1A1A" textLength="26.50" lengthAdjust="spacingAndGlyphs">p-value</text>
<circle cx="577.50" cy="36.10" r="3.4" fill="#EE0000" fill-opacity="0.5"/>
<text x="589.60" y="39.20" font-size="8.8" fill="#1A1A1A" textLength="78.40" lengthAdjust="spacingAndGlyphs">p &#8211; value and log<tspan font-size="6.5" dy="2">2</tspan><tspan dy="-2"> FC</tspan></text>
<line x1="429.20" y1="62.90" x2="429.20" y2="147.50" stroke="#EBEBEB" stroke-width="1.0"/>
<line x1="493.10" y1="62.90" x2="493.10" y2="147.50" stroke="#EBEBEB" stroke-width="1.0"/>
<line x1="557.00" y1="62.90" x2="557.00" y2="147.50" stroke="#EBEBEB" stroke-width="1.0"/>
<line x1="620.90" y1="62.90" x2="620.90" y2="147.50" stroke="#EBEBEB" stroke-width="1.0"/>
<line x1="461.15" y1="62.90" x2="461.15" y2="147.50" stroke="#EBEBEB" stroke-width="0.85"/>
<line x1="525.05" y1="62.90" x2="525.05" y2="147.50" stroke="#EBEBEB" stroke-width="0.85"/>
<line x1="588.95" y1="62.90" x2="588.95" y2="147.50" stroke="#EBEBEB" stroke-width="0.85"/>
<line x1="652.85" y1="62.90" x2="652.85" y2="147.50" stroke="#EBEBEB" stroke-width="0.85"/>
<line x1="417.50" y1="143.80" x2="676.00" y2="143.80" stroke="#EBEBEB" stroke-width="1.0"/>
<line x1="417.50" y1="122.00" x2="676.00" y2="122.00" stroke="#EBEBEB" stroke-width="1.0"/>
<line x1="417.50" y1="100.20" x2="676.00" y2="100.20" stroke="#EBEBEB" stroke-width="1.0"/>
<line x1="417.50" y1="78.40" x2="676.00" y2="78.40" stroke="#EBEBEB" stroke-width="1.0"/>
<line x1="417.50" y1="132.90" x2="676.00" y2="132.90" stroke="#EBEBEB" stroke-width="0.85"/>
<line x1="417.50" y1="111.10" x2="676.00" y2="111.10" stroke="#EBEBEB" stroke-width="0.85"/>
<line x1="417.50" y1="89.30" x2="676.00" y2="89.30" stroke="#EBEBEB" stroke-width="0.85"/>
<line x1="417.50" y1="67.50" x2="676.00" y2="67.50" stroke="#EBEBEB" stroke-width="0.85"/>
<rect x="417.7" y="62" width="92.30000000000001" height="5.099999999999994" fill="#fff"/>
<rect x="575" y="62" width="102" height="5.099999999999994" fill="#fff"/>
<text x="438.30" y="62.20" font-size="8.2" fill="#FF0000" textLength="51.00" lengthAdjust="spacingAndGlyphs" stroke="#FF0000" stroke-width="0.12">Higher in C1D1</text>
<text x="591.90" y="62.20" font-size="8.2" fill="#FF0000" textLength="51.10" lengthAdjust="spacingAndGlyphs" stroke="#FF0000" stroke-width="0.12">Higher in C2D1</text>
<circle cx="460.80" cy="78.50" r="1.75" fill="#EE0000" fill-opacity="0.5"/>
<circle cx="472.90" cy="127.00" r="1.75" fill="#EE0000" fill-opacity="0.5"/>
<circle cx="485.20" cy="131.90" r="1.75" fill="#EE0000" fill-opacity="0.5"/>
<circle cx="492.60" cy="134.50" r="1.75" fill="#EE0000" fill-opacity="0.5"/>
<circle cx="497.80" cy="137.20" r="1.75" fill="#EE0000" fill-opacity="0.5"/>
<circle cx="506.60" cy="138.00" r="1.75" fill="#EE0000" fill-opacity="0.5"/>
<circle cx="511.00" cy="138.40" r="1.75" fill="#EE0000" fill-opacity="0.5"/>
<circle cx="515.70" cy="138.90" r="1.75" fill="#EE0000" fill-opacity="0.5"/>
<circle cx="520.20" cy="137.70" r="1.75" fill="#EE0000" fill-opacity="0.5"/>
<circle cx="523.20" cy="138.90" r="1.75" fill="#EE0000" fill-opacity="0.5"/>
<circle cx="526.70" cy="138.00" r="1.75" fill="#EE0000" fill-opacity="0.5"/>
<circle cx="529.30" cy="139.40" r="1.75" fill="#EE0000" fill-opacity="0.5"/>
<circle cx="535.50" cy="130.70" r="1.75" fill="#EE0000" fill-opacity="0.5"/>
<circle cx="503.00" cy="136.00" r="1.75" fill="#EE0000" fill-opacity="0.5"/>
<circle cx="541.35" cy="137.99" r="1.75" fill="#EE0000" fill-opacity="0.5"/>
<circle cx="534.04" cy="139.62" r="1.75" fill="#EE0000" fill-opacity="0.5"/>
<circle cx="540.51" cy="140.15" r="1.75" fill="#EE0000" fill-opacity="0.5"/>
<circle cx="540.81" cy="136.96" r="1.75" fill="#EE0000" fill-opacity="0.5"/>
<circle cx="537.97" cy="137.90" r="1.75" fill="#EE0000" fill-opacity="0.5"/>
<circle cx="542.19" cy="138.38" r="1.75" fill="#EE0000" fill-opacity="0.5"/>
<circle cx="532.78" cy="139.03" r="1.75" fill="#EE0000" fill-opacity="0.5"/>
<circle cx="532.69" cy="136.80" r="1.75" fill="#EE0000" fill-opacity="0.5"/>
<circle cx="541.39" cy="140.70" r="1.75" fill="#EE0000" fill-opacity="0.5"/>
<circle cx="541.43" cy="137.30" r="1.75" fill="#EE0000" fill-opacity="0.5"/>
<circle cx="543.84" cy="137.31" r="1.75" fill="#EE0000" fill-opacity="0.5"/>
<circle cx="539.35" cy="139.31" r="1.75" fill="#EE0000" fill-opacity="0.5"/>
<circle cx="536.45" cy="140.12" r="1.75" fill="#EE0000" fill-opacity="0.5"/>
<circle cx="540.56" cy="140.22" r="1.75" fill="#EE0000" fill-opacity="0.5"/>
<circle cx="535.87" cy="139.49" r="1.75" fill="#EE0000" fill-opacity="0.5"/>
<circle cx="538.27" cy="137.19" r="1.75" fill="#EE0000" fill-opacity="0.5"/>
<circle cx="531.82" cy="138.92" r="1.75" fill="#EE0000" fill-opacity="0.5"/>
<circle cx="534.21" cy="136.28" r="1.75" fill="#EE0000" fill-opacity="0.5"/>
<circle cx="540.47" cy="138.99" r="1.75" fill="#EE0000" fill-opacity="0.5"/>
<circle cx="540.55" cy="139.55" r="1.75" fill="#EE0000" fill-opacity="0.5"/>
<circle cx="529.18" cy="138.75" r="1.75" fill="#EE0000" fill-opacity="0.5"/>
<circle cx="534.54" cy="140.00" r="1.75" fill="#EE0000" fill-opacity="0.5"/>
<circle cx="542.75" cy="140.40" r="1.75" fill="#EE0000" fill-opacity="0.5"/>
<circle cx="543.26" cy="139.97" r="1.75" fill="#EE0000" fill-opacity="0.5"/>
<circle cx="539.42" cy="140.04" r="1.75" fill="#EE0000" fill-opacity="0.5"/>
<circle cx="575.97" cy="140.51" r="1.75" fill="#EE0000" fill-opacity="0.5"/>
<circle cx="572.91" cy="136.92" r="1.75" fill="#EE0000" fill-opacity="0.5"/>
<circle cx="579.16" cy="139.41" r="1.75" fill="#EE0000" fill-opacity="0.5"/>
<circle cx="583.81" cy="138.49" r="1.75" fill="#EE0000" fill-opacity="0.5"/>
<circle cx="575.32" cy="135.78" r="1.75" fill="#EE0000" fill-opacity="0.5"/>
<circle cx="571.26" cy="140.17" r="1.75" fill="#EE0000" fill-opacity="0.5"/>
<circle cx="581.90" cy="139.31" r="1.75" fill="#EE0000" fill-opacity="0.5"/>
<circle cx="571.56" cy="136.73" r="1.75" fill="#EE0000" fill-opacity="0.5"/>
<circle cx="584.24" cy="137.92" r="1.75" fill="#EE0000" fill-opacity="0.5"/>
<circle cx="586.59" cy="135.02" r="1.75" fill="#EE0000" fill-opacity="0.5"/>
<circle cx="582.77" cy="140.17" r="1.75" fill="#EE0000" fill-opacity="0.5"/>
<circle cx="573.20" cy="135.78" r="1.75" fill="#EE0000" fill-opacity="0.5"/>
<circle cx="578.97" cy="134.37" r="1.75" fill="#EE0000" fill-opacity="0.5"/>
<circle cx="588.48" cy="139.19" r="1.75" fill="#EE0000" fill-opacity="0.5"/>
<circle cx="570.14" cy="141.18" r="1.75" fill="#EE0000" fill-opacity="0.5"/>
<circle cx="588.66" cy="139.76" r="1.75" fill="#EE0000" fill-opacity="0.5"/>
<circle cx="583.40" cy="136.70" r="1.75" fill="#EE0000" fill-opacity="0.5"/>
<circle cx="572.12" cy="138.42" r="1.75" fill="#EE0000" fill-opacity="0.5"/>
<circle cx="576.38" cy="139.72" r="1.75" fill="#EE0000" fill-opacity="0.5"/>
<circle cx="582.56" cy="137.25" r="1.75" fill="#EE0000" fill-opacity="0.5"/>
<circle cx="581.28" cy="136.94" r="1.75" fill="#EE0000" fill-opacity="0.5"/>
<circle cx="570.98" cy="138.13" r="1.75" fill="#EE0000" fill-opacity="0.5"/>
<circle cx="576.50" cy="139.30" r="1.75" fill="#EE0000" fill-opacity="0.5"/>
<circle cx="587.07" cy="136.66" r="1.75" fill="#EE0000" fill-opacity="0.5"/>
<circle cx="580.05" cy="139.37" r="1.75" fill="#EE0000" fill-opacity="0.5"/>
<circle cx="576.84" cy="134.94" r="1.75" fill="#EE0000" fill-opacity="0.5"/>
<circle cx="583.17" cy="140.48" r="1.75" fill="#EE0000" fill-opacity="0.5"/>
<circle cx="584.26" cy="138.95" r="1.75" fill="#EE0000" fill-opacity="0.5"/>
<circle cx="587.62" cy="139.39" r="1.75" fill="#EE0000" fill-opacity="0.5"/>
<circle cx="574.12" cy="141.83" r="1.75" fill="#EE0000" fill-opacity="0.5"/>
<circle cx="581.72" cy="135.40" r="1.75" fill="#EE0000" fill-opacity="0.5"/>
<circle cx="589.03" cy="138.68" r="1.75" fill="#EE0000" fill-opacity="0.5"/>
<circle cx="579.22" cy="139.16" r="1.75" fill="#EE0000" fill-opacity="0.5"/>
<circle cx="615.00" cy="136.80" r="1.75" fill="#EE0000" fill-opacity="0.5"/>
<circle cx="578.95" cy="139.82" r="1.75" fill="#EE0000" fill-opacity="0.5"/>
<circle cx="574.46" cy="139.54" r="1.75" fill="#EE0000" fill-opacity="0.5"/>
<circle cx="608.48" cy="137.98" r="1.75" fill="#EE0000" fill-opacity="0.5"/>
<circle cx="591.46" cy="137.18" r="1.75" fill="#EE0000" fill-opacity="0.5"/>
<circle cx="579.30" cy="141.60" r="1.75" fill="#EE0000" fill-opacity="0.5"/>
<circle cx="585.66" cy="138.03" r="1.75" fill="#EE0000" fill-opacity="0.5"/>
<circle cx="591.41" cy="134.24" r="1.75" fill="#EE0000" fill-opacity="0.5"/>
<circle cx="595.41" cy="132.38" r="1.75" fill="#EE0000" fill-opacity="0.5"/>
<circle cx="609.69" cy="134.90" r="1.75" fill="#EE0000" fill-opacity="0.5"/>
<circle cx="610.53" cy="133.94" r="1.75" fill="#EE0000" fill-opacity="0.5"/>
<circle cx="583.09" cy="136.28" r="1.75" fill="#EE0000" fill-opacity="0.5"/>
<circle cx="589.42" cy="138.01" r="1.75" fill="#EE0000" fill-opacity="0.5"/>
<circle cx="600.96" cy="134.99" r="1.75" fill="#EE0000" fill-opacity="0.5"/>
<circle cx="570.85" cy="140.11" r="1.75" fill="#EE0000" fill-opacity="0.5"/>
<circle cx="575.02" cy="140.14" r="1.75" fill="#EE0000" fill-opacity="0.5"/>
<circle cx="600.80" cy="133.75" r="1.75" fill="#EE0000" fill-opacity="0.5"/>
<circle cx="579.68" cy="139.54" r="1.75" fill="#EE0000" fill-opacity="0.5"/>
<circle cx="576.40" cy="140.80" r="1.75" fill="#EE0000" fill-opacity="0.5"/>
<circle cx="598.42" cy="139.59" r="1.75" fill="#EE0000" fill-opacity="0.5"/>
<circle cx="577.87" cy="138.62" r="1.75" fill="#EE0000" fill-opacity="0.5"/>
<circle cx="594.54" cy="139.16" r="1.75" fill="#EE0000" fill-opacity="0.5"/>
<circle cx="589.93" cy="140.71" r="1.75" fill="#EE0000" fill-opacity="0.5"/>
<circle cx="595.75" cy="133.91" r="1.75" fill="#EE0000" fill-opacity="0.5"/>
<circle cx="592.57" cy="136.48" r="1.75" fill="#EE0000" fill-opacity="0.5"/>
<circle cx="594.98" cy="140.49" r="1.75" fill="#EE0000" fill-opacity="0.5"/>
<circle cx="591.40" cy="137.19" r="1.75" fill="#EE0000" fill-opacity="0.5"/>
<circle cx="601.27" cy="140.25" r="1.75" fill="#EE0000" fill-opacity="0.5"/>
<circle cx="586.75" cy="135.61" r="1.75" fill="#EE0000" fill-opacity="0.5"/>
<circle cx="599.85" cy="138.00" r="1.75" fill="#EE0000" fill-opacity="0.5"/>
<circle cx="593.53" cy="136.33" r="1.75" fill="#EE0000" fill-opacity="0.5"/>
<circle cx="603.91" cy="137.88" r="1.75" fill="#EE0000" fill-opacity="0.5"/>
<circle cx="584.93" cy="140.48" r="1.75" fill="#EE0000" fill-opacity="0.5"/>
<circle cx="586.31" cy="136.22" r="1.75" fill="#EE0000" fill-opacity="0.5"/>
<circle cx="594.28" cy="139.48" r="1.75" fill="#EE0000" fill-opacity="0.5"/>
<circle cx="589.12" cy="137.09" r="1.75" fill="#EE0000" fill-opacity="0.5"/>
<circle cx="609.34" cy="134.22" r="1.75" fill="#EE0000" fill-opacity="0.5"/>
<circle cx="609.39" cy="135.44" r="1.75" fill="#EE0000" fill-opacity="0.5"/>
<circle cx="593.19" cy="133.99" r="1.75" fill="#EE0000" fill-opacity="0.5"/>
<circle cx="600.73" cy="139.71" r="1.75" fill="#EE0000" fill-opacity="0.5"/>
<circle cx="584.54" cy="134.49" r="1.75" fill="#EE0000" fill-opacity="0.5"/>
<circle cx="582.96" cy="137.45" r="1.75" fill="#EE0000" fill-opacity="0.5"/>
<circle cx="599.74" cy="139.63" r="1.75" fill="#EE0000" fill-opacity="0.5"/>
<circle cx="612.28" cy="137.00" r="1.75" fill="#EE0000" fill-opacity="0.5"/>
<circle cx="614.07" cy="137.70" r="1.75" fill="#EE0000" fill-opacity="0.5"/>
<circle cx="600.90" cy="139.68" r="1.75" fill="#EE0000" fill-opacity="0.5"/>
<circle cx="613.49" cy="137.73" r="1.75" fill="#EE0000" fill-opacity="0.5"/>
<circle cx="598.83" cy="137.89" r="1.75" fill="#EE0000" fill-opacity="0.5"/>
<circle cx="602.82" cy="137.56" r="1.75" fill="#EE0000" fill-opacity="0.5"/>
<circle cx="602.05" cy="133.34" r="1.75" fill="#EE0000" fill-opacity="0.5"/>
<circle cx="601.35" cy="136.04" r="1.75" fill="#EE0000" fill-opacity="0.5"/>
<circle cx="606.13" cy="132.11" r="1.75" fill="#EE0000" fill-opacity="0.5"/>
<circle cx="600.79" cy="135.06" r="1.75" fill="#EE0000" fill-opacity="0.5"/>
<circle cx="596.11" cy="133.84" r="1.75" fill="#EE0000" fill-opacity="0.5"/>
<circle cx="583.10" cy="135.64" r="1.75" fill="#EE0000" fill-opacity="0.5"/>
<circle cx="583.92" cy="135.74" r="1.75" fill="#EE0000" fill-opacity="0.5"/>
<circle cx="608.52" cy="137.33" r="1.75" fill="#EE0000" fill-opacity="0.5"/>
<circle cx="613.93" cy="135.91" r="1.75" fill="#EE0000" fill-opacity="0.5"/>
<circle cx="600.23" cy="133.34" r="1.75" fill="#EE0000" fill-opacity="0.5"/>
<circle cx="574.08" cy="141.63" r="1.75" fill="#EE0000" fill-opacity="0.5"/>
<circle cx="572.41" cy="140.57" r="1.75" fill="#EE0000" fill-opacity="0.5"/>
<circle cx="603.97" cy="133.66" r="1.75" fill="#EE0000" fill-opacity="0.5"/>
<circle cx="604.68" cy="133.06" r="1.75" fill="#EE0000" fill-opacity="0.5"/>
<circle cx="604.49" cy="131.93" r="1.75" fill="#EE0000" fill-opacity="0.5"/>
<circle cx="599.43" cy="138.80" r="1.75" fill="#EE0000" fill-opacity="0.5"/>
<circle cx="580.70" cy="141.61" r="1.75" fill="#EE0000" fill-opacity="0.5"/>
<circle cx="603.86" cy="131.13" r="1.75" fill="#EE0000" fill-opacity="0.5"/>
<circle cx="608.87" cy="131.88" r="1.75" fill="#EE0000" fill-opacity="0.5"/>
<circle cx="583.55" cy="139.02" r="1.75" fill="#EE0000" fill-opacity="0.5"/>
<circle cx="576.30" cy="140.47" r="1.75" fill="#EE0000" fill-opacity="0.5"/>
<circle cx="586.38" cy="137.32" r="1.75" fill="#EE0000" fill-opacity="0.5"/>
<circle cx="589.94" cy="138.45" r="1.75" fill="#EE0000" fill-opacity="0.5"/>
<circle cx="575.25" cy="139.77" r="1.75" fill="#EE0000" fill-opacity="0.5"/>
<circle cx="586.16" cy="138.09" r="1.75" fill="#EE0000" fill-opacity="0.5"/>
<circle cx="599.49" cy="135.60" r="1.75" fill="#EE0000" fill-opacity="0.5"/>
<circle cx="587.29" cy="139.65" r="1.75" fill="#EE0000" fill-opacity="0.5"/>
<circle cx="596.34" cy="134.22" r="1.75" fill="#EE0000" fill-opacity="0.5"/>
<circle cx="571.03" cy="141.71" r="1.75" fill="#EE0000" fill-opacity="0.5"/>
<circle cx="584.60" cy="137.66" r="1.75" fill="#EE0000" fill-opacity="0.5"/>
<circle cx="598.06" cy="134.39" r="1.75" fill="#EE0000" fill-opacity="0.5"/>
<circle cx="589.43" cy="140.77" r="1.75" fill="#EE0000" fill-opacity="0.5"/>
<circle cx="586.83" cy="138.53" r="1.75" fill="#EE0000" fill-opacity="0.5"/>
<circle cx="608.37" cy="134.12" r="1.75" fill="#EE0000" fill-opacity="0.5"/>
<circle cx="589.13" cy="137.45" r="1.75" fill="#EE0000" fill-opacity="0.5"/>
<circle cx="596.60" cy="134.01" r="1.75" fill="#EE0000" fill-opacity="0.5"/>
<circle cx="595.68" cy="139.77" r="1.75" fill="#EE0000" fill-opacity="0.5"/>
<circle cx="578.02" cy="139.25" r="1.75" fill="#EE0000" fill-opacity="0.5"/>
<circle cx="614.59" cy="133.57" r="1.75" fill="#EE0000" fill-opacity="0.5"/>
<circle cx="598.34" cy="138.45" r="1.75" fill="#EE0000" fill-opacity="0.5"/>
<circle cx="591.27" cy="133.27" r="1.75" fill="#EE0000" fill-opacity="0.5"/>
<circle cx="580.74" cy="139.26" r="1.75" fill="#EE0000" fill-opacity="0.5"/>
<circle cx="607.58" cy="136.06" r="1.75" fill="#EE0000" fill-opacity="0.5"/>
<circle cx="572.39" cy="139.87" r="1.75" fill="#EE0000" fill-opacity="0.5"/>
<circle cx="606.61" cy="133.56" r="1.75" fill="#EE0000" fill-opacity="0.5"/>
<circle cx="612.25" cy="136.74" r="1.75" fill="#EE0000" fill-opacity="0.5"/>
<circle cx="591.83" cy="137.48" r="1.75" fill="#EE0000" fill-opacity="0.5"/>
<circle cx="577.03" cy="138.71" r="1.75" fill="#EE0000" fill-opacity="0.5"/>
<circle cx="586.14" cy="137.21" r="1.75" fill="#EE0000" fill-opacity="0.5"/>
<circle cx="588.12" cy="136.69" r="1.75" fill="#EE0000" fill-opacity="0.5"/>
<circle cx="607.37" cy="132.72" r="1.75" fill="#EE0000" fill-opacity="0.5"/>
<circle cx="597.86" cy="134.79" r="1.75" fill="#EE0000" fill-opacity="0.5"/>
<circle cx="569.68" cy="141.89" r="1.75" fill="#EE0000" fill-opacity="0.5"/>
<circle cx="611.30" cy="136.35" r="1.75" fill="#EE0000" fill-opacity="0.5"/>
<circle cx="596.36" cy="133.88" r="1.75" fill="#EE0000" fill-opacity="0.5"/>
<circle cx="606.96" cy="135.69" r="1.75" fill="#EE0000" fill-opacity="0.5"/>
<circle cx="595.87" cy="140.58" r="1.75" fill="#EE0000" fill-opacity="0.5"/>
<circle cx="597.90" cy="135.37" r="1.75" fill="#EE0000" fill-opacity="0.5"/>
<circle cx="574.00" cy="141.55" r="1.75" fill="#EE0000" fill-opacity="0.5"/>
<circle cx="580.86" cy="137.21" r="1.75" fill="#EE0000" fill-opacity="0.5"/>
<circle cx="601.49" cy="135.32" r="1.75" fill="#EE0000" fill-opacity="0.5"/>
<circle cx="607.32" cy="138.81" r="1.75" fill="#EE0000" fill-opacity="0.5"/>
<circle cx="601.84" cy="134.29" r="1.75" fill="#EE0000" fill-opacity="0.5"/>
<circle cx="597.57" cy="139.34" r="1.75" fill="#EE0000" fill-opacity="0.5"/>
<circle cx="592.07" cy="132.85" r="1.75" fill="#EE0000" fill-opacity="0.5"/>
<circle cx="603.86" cy="133.15" r="1.75" fill="#EE0000" fill-opacity="0.5"/>
<circle cx="569.80" cy="141.20" r="1.75" fill="#EE0000" fill-opacity="0.5"/>
<circle cx="579.03" cy="141.27" r="1.75" fill="#EE0000" fill-opacity="0.5"/>
<circle cx="572.85" cy="141.22" r="1.75" fill="#EE0000" fill-opacity="0.5"/>
<circle cx="610.11" cy="137.91" r="1.75" fill="#EE0000" fill-opacity="0.5"/>
<circle cx="590.62" cy="134.74" r="1.75" fill="#EE0000" fill-opacity="0.5"/>
<circle cx="609.15" cy="136.25" r="1.75" fill="#EE0000" fill-opacity="0.5"/>
<circle cx="599.41" cy="132.57" r="1.75" fill="#EE0000" fill-opacity="0.5"/>
<circle cx="603.69" cy="137.09" r="1.75" fill="#EE0000" fill-opacity="0.5"/>
<circle cx="575.24" cy="140.58" r="1.75" fill="#EE0000" fill-opacity="0.5"/>
<circle cx="581.32" cy="135.53" r="1.75" fill="#EE0000" fill-opacity="0.5"/>
<circle cx="609.98" cy="134.68" r="1.75" fill="#EE0000" fill-opacity="0.5"/>
<circle cx="583.90" cy="140.93" r="1.75" fill="#EE0000" fill-opacity="0.5"/>
<circle cx="573.71" cy="141.76" r="1.75" fill="#EE0000" fill-opacity="0.5"/>
<circle cx="570.84" cy="140.85" r="1.75" fill="#EE0000" fill-opacity="0.5"/>
<circle cx="601.41" cy="133.32" r="1.75" fill="#EE0000" fill-opacity="0.5"/>
<circle cx="591.87" cy="134.15" r="1.75" fill="#EE0000" fill-opacity="0.5"/>
<circle cx="604.32" cy="134.23" r="1.75" fill="#EE0000" fill-opacity="0.5"/>
<circle cx="608.35" cy="134.75" r="1.75" fill="#EE0000" fill-opacity="0.5"/>
<circle cx="609.61" cy="136.79" r="1.75" fill="#EE0000" fill-opacity="0.5"/>
<circle cx="613.60" cy="133.40" r="1.75" fill="#EE0000" fill-opacity="0.5"/>
<circle cx="596.57" cy="132.52" r="1.75" fill="#EE0000" fill-opacity="0.5"/>
<circle cx="577.01" cy="139.47" r="1.75" fill="#EE0000" fill-opacity="0.5"/>
<circle cx="603.58" cy="133.16" r="1.75" fill="#EE0000" fill-opacity="0.5"/>
<circle cx="598.43" cy="136.45" r="1.75" fill="#EE0000" fill-opacity="0.5"/>
<circle cx="598.62" cy="138.79" r="1.75" fill="#EE0000" fill-opacity="0.5"/>
<circle cx="608.58" cy="137.41" r="1.75" fill="#EE0000" fill-opacity="0.5"/>
<circle cx="604.64" cy="135.49" r="1.75" fill="#EE0000" fill-opacity="0.5"/>
<circle cx="604.08" cy="131.61" r="1.75" fill="#EE0000" fill-opacity="0.5"/>
<circle cx="608.53" cy="134.69" r="1.75" fill="#EE0000" fill-opacity="0.5"/>
<circle cx="613.51" cy="136.24" r="1.75" fill="#EE0000" fill-opacity="0.5"/>
<circle cx="623.09" cy="126.66" r="1.75" fill="#EE0000" fill-opacity="0.5"/>
<circle cx="586.05" cy="132.32" r="1.75" fill="#EE0000" fill-opacity="0.5"/>
<circle cx="596.04" cy="129.95" r="1.75" fill="#EE0000" fill-opacity="0.5"/>
<circle cx="600.07" cy="129.16" r="1.75" fill="#EE0000" fill-opacity="0.5"/>
<circle cx="582.52" cy="131.15" r="1.75" fill="#EE0000" fill-opacity="0.5"/>
<circle cx="593.33" cy="131.11" r="1.75" fill="#EE0000" fill-opacity="0.5"/>
<circle cx="596.60" cy="131.51" r="1.75" fill="#EE0000" fill-opacity="0.5"/>
<circle cx="579.31" cy="132.73" r="1.75" fill="#EE0000" fill-opacity="0.5"/>
<circle cx="603.72" cy="129.31" r="1.75" fill="#EE0000" fill-opacity="0.5"/>
<circle cx="605.02" cy="124.21" r="1.75" fill="#EE0000" fill-opacity="0.5"/>
<circle cx="589.52" cy="132.17" r="1.75" fill="#EE0000" fill-opacity="0.5"/>
<circle cx="613.74" cy="125.95" r="1.75" fill="#EE0000" fill-opacity="0.5"/>
<circle cx="607.13" cy="129.23" r="1.75" fill="#EE0000" fill-opacity="0.5"/>
<circle cx="613.94" cy="125.03" r="1.75" fill="#EE0000" fill-opacity="0.5"/>
<circle cx="602.65" cy="129.01" r="1.75" fill="#EE0000" fill-opacity="0.5"/>
<circle cx="616.32" cy="125.64" r="1.75" fill="#EE0000" fill-opacity="0.5"/>
<circle cx="596.99" cy="128.20" r="1.75" fill="#EE0000" fill-opacity="0.5"/>
<circle cx="621.35" cy="129.26" r="1.75" fill="#EE0000" fill-opacity="0.5"/>
<circle cx="617.95" cy="127.39" r="1.75" fill="#EE0000" fill-opacity="0.5"/>
<circle cx="589.46" cy="128.22" r="1.75" fill="#EE0000" fill-opacity="0.5"/>
<circle cx="610.17" cy="127.64" r="1.75" fill="#EE0000" fill-opacity="0.5"/>
<circle cx="604.66" cy="124.69" r="1.75" fill="#EE0000" fill-opacity="0.5"/>
<circle cx="632.50" cy="98.50" r="1.75" fill="#EE0000" fill-opacity="0.5"/>
<circle cx="592.80" cy="118.30" r="1.75" fill="#EE0000" fill-opacity="0.5"/>
<circle cx="615.70" cy="116.00" r="1.75" fill="#EE0000" fill-opacity="0.5"/>
<circle cx="597.00" cy="120.00" r="1.75" fill="#EE0000" fill-opacity="0.5"/>
<circle cx="589.80" cy="124.40" r="1.75" fill="#EE0000" fill-opacity="0.5"/>
<circle cx="605.60" cy="123.90" r="1.75" fill="#EE0000" fill-opacity="0.5"/>
<circle cx="601.60" cy="125.20" r="1.75" fill="#EE0000" fill-opacity="0.5"/>
<circle cx="618.70" cy="125.20" r="1.75" fill="#EE0000" fill-opacity="0.5"/>
<circle cx="624.60" cy="124.80" r="1.75" fill="#EE0000" fill-opacity="0.5"/>
<circle cx="629.20" cy="127.40" r="1.75" fill="#EE0000" fill-opacity="0.5"/>
<circle cx="622.00" cy="128.10" r="1.75" fill="#EE0000" fill-opacity="0.5"/>
<circle cx="616.80" cy="127.40" r="1.75" fill="#EE0000" fill-opacity="0.5"/>
<circle cx="597.70" cy="126.80" r="1.75" fill="#EE0000" fill-opacity="0.5"/>
<circle cx="593.10" cy="129.40" r="1.75" fill="#EE0000" fill-opacity="0.5"/>
<circle cx="587.20" cy="131.00" r="1.75" fill="#EE0000" fill-opacity="0.5"/>
<circle cx="621.40" cy="135.30" r="1.75" fill="#EE0000" fill-opacity="0.5"/>
<circle cx="543.33" cy="141.14" r="1.75" fill="#228B22" fill-opacity="0.5"/>
<circle cx="538.84" cy="139.82" r="1.75" fill="#228B22" fill-opacity="0.5"/>
<circle cx="540.65" cy="140.59" r="1.75" fill="#228B22" fill-opacity="0.5"/>
<circle cx="540.07" cy="141.54" r="1.75" fill="#228B22" fill-opacity="0.5"/>
<circle cx="540.74" cy="142.20" r="1.75" fill="#228B22" fill-opacity="0.5"/>
<circle cx="542.57" cy="139.92" r="1.75" fill="#228B22" fill-opacity="0.5"/>
<circle cx="537.94" cy="140.62" r="1.75" fill="#228B22" fill-opacity="0.5"/>
<circle cx="544.26" cy="141.87" r="1.75" fill="#228B22" fill-opacity="0.5"/>
<circle cx="542.72" cy="142.10" r="1.75" fill="#228B22" fill-opacity="0.5"/>
<circle cx="538.86" cy="139.90" r="1.75" fill="#228B22" fill-opacity="0.5"/>
<circle cx="538.19" cy="141.33" r="1.75" fill="#228B22" fill-opacity="0.5"/>
<circle cx="546.72" cy="141.20" r="1.75" fill="#228B22" fill-opacity="0.5"/>
<circle cx="542.24" cy="140.26" r="1.75" fill="#228B22" fill-opacity="0.5"/>
<circle cx="541.82" cy="141.78" r="1.75" fill="#228B22" fill-opacity="0.5"/>
<circle cx="540.48" cy="140.26" r="1.75" fill="#228B22" fill-opacity="0.5"/>
<circle cx="539.70" cy="139.63" r="1.75" fill="#228B22" fill-opacity="0.5"/>
<circle cx="538.84" cy="140.09" r="1.75" fill="#228B22" fill-opacity="0.5"/>
<circle cx="544.50" cy="139.82" r="1.75" fill="#228B22" fill-opacity="0.5"/>
<circle cx="543.12" cy="141.39" r="1.75" fill="#228B22" fill-opacity="0.5"/>
<circle cx="541.47" cy="140.41" r="1.75" fill="#228B22" fill-opacity="0.5"/>
<circle cx="545.79" cy="141.16" r="1.75" fill="#228B22" fill-opacity="0.5"/>
<circle cx="540.57" cy="139.98" r="1.75" fill="#228B22" fill-opacity="0.5"/>
<circle cx="573.74" cy="141.69" r="1.75" fill="#228B22" fill-opacity="0.5"/>
<circle cx="570.77" cy="142.83" r="1.75" fill="#228B22" fill-opacity="0.5"/>
<circle cx="567.85" cy="142.46" r="1.75" fill="#228B22" fill-opacity="0.5"/>
<circle cx="572.72" cy="142.01" r="1.75" fill="#228B22" fill-opacity="0.5"/>
<circle cx="570.34" cy="142.36" r="1.75" fill="#228B22" fill-opacity="0.5"/>
<circle cx="570.31" cy="141.13" r="1.75" fill="#228B22" fill-opacity="0.5"/>
<circle cx="568.63" cy="141.36" r="1.75" fill="#228B22" fill-opacity="0.5"/>
<circle cx="569.74" cy="142.24" r="1.75" fill="#228B22" fill-opacity="0.5"/>
<circle cx="567.64" cy="141.94" r="1.75" fill="#228B22" fill-opacity="0.5"/>
<circle cx="573.65" cy="142.09" r="1.75" fill="#228B22" fill-opacity="0.5"/>
<circle cx="567.98" cy="141.76" r="1.75" fill="#228B22" fill-opacity="0.5"/>
<circle cx="572.52" cy="142.23" r="1.75" fill="#228B22" fill-opacity="0.5"/>
<circle cx="573.46" cy="142.26" r="1.75" fill="#228B22" fill-opacity="0.5"/>
<circle cx="574.70" cy="143.11" r="1.75" fill="#228B22" fill-opacity="0.5"/>
<circle cx="548.00" cy="139.50" r="1.75" fill="#4169E1" fill-opacity="0.5"/>
<circle cx="551.00" cy="139.80" r="1.75" fill="#4169E1" fill-opacity="0.5"/>
<circle cx="563.00" cy="139.60" r="1.75" fill="#4169E1" fill-opacity="0.5"/>
<circle cx="566.00" cy="139.20" r="1.75" fill="#4169E1" fill-opacity="0.5"/>
<polygon points="546.3,139.2 557,141.2 567.8,138.8 567.8,142.8 557,145.3 546.3,143.4" fill="#454545" stroke="#454545" stroke-width="0.6" stroke-linejoin="round"/>
<line x1="546.35" y1="62.90" x2="546.35" y2="147.50" stroke="#333333" stroke-width="0.7" stroke-dasharray="3,1.5"/>
<line x1="567.65" y1="62.90" x2="567.65" y2="147.50" stroke="#333333" stroke-width="0.7" stroke-dasharray="3,1.5"/>
<line x1="417.50" y1="140.97" x2="676.00" y2="140.97" stroke="#AAAAAA" stroke-width="0.7" stroke-dasharray="3,1.5"/>
<text x="442.50" y="81.00" font-size="8.9" fill="#000" textLength="38.00" lengthAdjust="spacingAndGlyphs">INS-IGF2</text>
<text x="460.60" y="130.00" font-size="8.9" fill="#000" textLength="26.00" lengthAdjust="spacingAndGlyphs">XIRP2</text>
<text x="495.00" y="137.00" font-size="8.9" fill="#000" textLength="18.00" lengthAdjust="spacingAndGlyphs">DES</text>
<text x="520.70" y="133.50" font-size="8.9" fill="#000" textLength="29.70" lengthAdjust="spacingAndGlyphs">FGFR3</text>
<text x="523.70" y="143.50" font-size="8.9" fill="#000" textLength="30.00" lengthAdjust="spacingAndGlyphs">ACACB</text>
<text x="620.70" y="101.70" font-size="8.9" fill="#000" textLength="24.00" lengthAdjust="spacingAndGlyphs">GBP5</text>
<text x="596.30" y="121.70" font-size="8.9" fill="#000" textLength="48.40" lengthAdjust="spacingAndGlyphs">ADAMDEC1</text>
<text x="598.50" y="132.60" font-size="8.9" fill="#000" textLength="17.20" lengthAdjust="spacingAndGlyphs">CD2</text>
<text x="593.70" y="140.00" font-size="8.9" fill="#000" textLength="31.50" lengthAdjust="spacingAndGlyphs">CCL5L1</text>
<text x="574.50" y="142.00" font-size="8.9" fill="#000" textLength="18.50" lengthAdjust="spacingAndGlyphs">ABI3</text>
<text x="420.60" y="137.70" font-size="10.7" fill="#FF0000" textLength="29.40" lengthAdjust="spacingAndGlyphs" stroke="#FF0000" stroke-width="0.2">n = 46</text>
<text x="633.20" y="138.30" font-size="10.7" fill="#FF0000" textLength="35.30" lengthAdjust="spacingAndGlyphs" stroke="#FF0000" stroke-width="0.2">n = 300</text>
<line x1="417.50" y1="67.10" x2="417.50" y2="148.00" stroke="#333333" stroke-width="1.0"/>
<line x1="417.00" y1="147.50" x2="676.00" y2="147.50" stroke="#333333" stroke-width="1.0"/>
<line x1="429.20" y1="147.50" x2="429.20" y2="151.30" stroke="#333333" stroke-width="0.9"/>
<text x="429.20" y="163.00" font-size="11" fill="#4D4D4D" text-anchor="middle">-6</text>
<line x1="493.10" y1="147.50" x2="493.10" y2="151.30" stroke="#333333" stroke-width="0.9"/>
<text x="493.10" y="163.00" font-size="11" fill="#4D4D4D" text-anchor="middle">-3</text>
<line x1="557.00" y1="147.50" x2="557.00" y2="151.30" stroke="#333333" stroke-width="0.9"/>
<text x="557.00" y="163.00" font-size="11" fill="#4D4D4D" text-anchor="middle">0</text>
<line x1="620.90" y1="147.50" x2="620.90" y2="151.30" stroke="#333333" stroke-width="0.9"/>
<text x="620.90" y="163.00" font-size="11" fill="#4D4D4D" text-anchor="middle">3</text>
<line x1="413.70" y1="143.80" x2="417.50" y2="143.80" stroke="#333333" stroke-width="0.9"/>
<text x="411.00" y="148.30" font-size="11" fill="#4D4D4D" text-anchor="end">0</text>
<line x1="413.70" y1="122.00" x2="417.50" y2="122.00" stroke="#333333" stroke-width="0.9"/>
<text x="411.00" y="126.50" font-size="11" fill="#4D4D4D" text-anchor="end">10</text>
<line x1="413.70" y1="100.20" x2="417.50" y2="100.20" stroke="#333333" stroke-width="0.9"/>
<text x="411.00" y="104.70" font-size="11" fill="#4D4D4D" text-anchor="end">20</text>
<line x1="413.70" y1="78.40" x2="417.50" y2="78.40" stroke="#333333" stroke-width="0.9"/>
<text x="411.00" y="82.90" font-size="11" fill="#4D4D4D" text-anchor="end">30</text>
<text x="507.00" y="176.60" font-size="11" fill="#000">Log<tspan font-size="7.5" dy="2.5">2</tspan><tspan dy="-2.5"> fold change</tspan></text>
<text transform="translate(390.60,104.00) rotate(-90)" font-size="11.6" fill="#000" text-anchor="middle">&#8722;Log<tspan font-size="7.5" dy="2.5">10</tspan><tspan dy="-2.5" font-style="italic"> P</tspan></text>
<text x="16.60" y="243.00" font-size="13.8" fill="#000" font-weight="bold" textLength="7.00" lengthAdjust="spacingAndGlyphs">c</text>
<rect x="212.2" y="229.8" width="131" height="287" fill="#EBEBEB"/>
<line x1="212.20" y1="236.40" x2="343.20" y2="236.40" stroke="#FFFFFF" stroke-width="0.85"/>
<line x1="212.20" y1="246.58" x2="343.20" y2="246.58" stroke="#FFFFFF" stroke-width="0.85"/>
<line x1="212.20" y1="256.76" x2="343.20" y2="256.76" stroke="#FFFFFF" stroke-width="0.85"/>
<line x1="212.20" y1="266.94" x2="343.20" y2="266.94" stroke="#FFFFFF" stroke-width="0.85"/>
<line x1="212.20" y1="277.12" x2="343.20" y2="277.12" stroke="#FFFFFF" stroke-width="0.85"/>
<line x1="212.20" y1="287.30" x2="343.20" y2="287.30" stroke="#FFFFFF" stroke-width="0.85"/>
<line x1="212.20" y1="297.48" x2="343.20" y2="297.48" stroke="#FFFFFF" stroke-width="0.85"/>
<line x1="212.20" y1="307.66" x2="343.20" y2="307.66" stroke="#FFFFFF" stroke-width="0.85"/>
<line x1="212.20" y1="317.84" x2="343.20" y2="317.84" stroke="#FFFFFF" stroke-width="0.85"/>
<line x1="212.20" y1="328.02" x2="343.20" y2="328.02" stroke="#FFFFFF" stroke-width="0.85"/>
<line x1="212.20" y1="338.20" x2="343.20" y2="338.20" stroke="#FFFFFF" stroke-width="0.85"/>
<line x1="212.20" y1="348.38" x2="343.20" y2="348.38" stroke="#FFFFFF" stroke-width="0.85"/>
<line x1="212.20" y1="358.56" x2="343.20" y2="358.56" stroke="#FFFFFF" stroke-width="0.85"/>
<line x1="212.20" y1="368.74" x2="343.20" y2="368.74" stroke="#FFFFFF" stroke-width="0.85"/>
<line x1="212.20" y1="378.92" x2="343.20" y2="378.92" stroke="#FFFFFF" stroke-width="0.85"/>
<line x1="212.20" y1="389.10" x2="343.20" y2="389.10" stroke="#FFFFFF" stroke-width="0.85"/>
<line x1="212.20" y1="399.28" x2="343.20" y2="399.28" stroke="#FFFFFF" stroke-width="0.85"/>
<line x1="212.20" y1="409.46" x2="343.20" y2="409.46" stroke="#FFFFFF" stroke-width="0.85"/>
<line x1="212.20" y1="419.64" x2="343.20" y2="419.64" stroke="#FFFFFF" stroke-width="0.85"/>
<line x1="212.20" y1="429.82" x2="343.20" y2="429.82" stroke="#FFFFFF" stroke-width="0.85"/>
<line x1="212.20" y1="440.00" x2="343.20" y2="440.00" stroke="#FFFFFF" stroke-width="0.85"/>
<line x1="212.20" y1="450.18" x2="343.20" y2="450.18" stroke="#FFFFFF" stroke-width="0.85"/>
<line x1="212.20" y1="460.36" x2="343.20" y2="460.36" stroke="#FFFFFF" stroke-width="0.85"/>
<line x1="212.20" y1="470.54" x2="343.20" y2="470.54" stroke="#FFFFFF" stroke-width="0.85"/>
<line x1="212.20" y1="480.72" x2="343.20" y2="480.72" stroke="#FFFFFF" stroke-width="0.85"/>
<line x1="212.20" y1="490.90" x2="343.20" y2="490.90" stroke="#FFFFFF" stroke-width="0.85"/>
<line x1="212.20" y1="501.08" x2="343.20" y2="501.08" stroke="#FFFFFF" stroke-width="0.85"/>
<line x1="212.20" y1="511.26" x2="343.20" y2="511.26" stroke="#FFFFFF" stroke-width="0.85"/>
<line x1="236.60" y1="229.80" x2="236.60" y2="516.80" stroke="#FFFFFF" stroke-width="0.85"/>
<line x1="277.70" y1="229.80" x2="277.70" y2="516.80" stroke="#FFFFFF" stroke-width="0.85"/>
<line x1="318.80" y1="229.80" x2="318.80" y2="516.80" stroke="#FFFFFF" stroke-width="0.85"/>
<text transform="translate(207.6,239.30) scale(0.929,1)" font-size="8.0" fill="#4D4D4D" text-anchor="end">HALLMARK_XENOBIOTIC_METABOLISM</text>
<line x1="209.20" y1="236.40" x2="211.80" y2="236.40" stroke="#555555" stroke-width="0.8"/>
<text transform="translate(207.6,249.48) scale(0.929,1)" font-size="8.0" fill="#4D4D4D" text-anchor="end">HALLMARK_TNFA_SIGNALING_VIA_NFKB</text>
<line x1="209.20" y1="246.58" x2="211.80" y2="246.58" stroke="#555555" stroke-width="0.8"/>
<text transform="translate(207.6,259.66) scale(0.929,1)" font-size="8.0" fill="#4D4D4D" text-anchor="end">HALLMARK_TGF_BETA_SIGNALING</text>
<line x1="209.20" y1="256.76" x2="211.80" y2="256.76" stroke="#555555" stroke-width="0.8"/>
<text transform="translate(207.6,269.84) scale(0.929,1)" font-size="8.0" fill="#4D4D4D" text-anchor="end">HALLMARK_PI3K_AKT_MTOR_SIGNALING</text>
<line x1="209.20" y1="266.94" x2="211.80" y2="266.94" stroke="#555555" stroke-width="0.8"/>
<text transform="translate(207.6,280.02) scale(0.929,1)" font-size="8.0" fill="#4D4D4D" text-anchor="end">HALLMARK_PEROXISOME</text>
<line x1="209.20" y1="277.12" x2="211.80" y2="277.12" stroke="#555555" stroke-width="0.8"/>
<text transform="translate(207.6,290.20) scale(0.929,1)" font-size="8.0" fill="#4D4D4D" text-anchor="end">HALLMARK_OXIDATIVE_PHOSPHORYLATION</text>
<line x1="209.20" y1="287.30" x2="211.80" y2="287.30" stroke="#555555" stroke-width="0.8"/>
<text transform="translate(207.6,300.38) scale(0.929,1)" font-size="8.0" fill="#4D4D4D" text-anchor="end">HALLMARK_MYOGENESIS</text>
<line x1="209.20" y1="297.48" x2="211.80" y2="297.48" stroke="#555555" stroke-width="0.8"/>
<text transform="translate(207.6,310.56) scale(0.929,1)" font-size="8.0" fill="#4D4D4D" text-anchor="end">HALLMARK_MYC_TARGETS_V1</text>
<line x1="209.20" y1="307.66" x2="211.80" y2="307.66" stroke="#555555" stroke-width="0.8"/>
<text transform="translate(207.6,320.74) scale(0.929,1)" font-size="8.0" fill="#4D4D4D" text-anchor="end">HALLMARK_KRAS_SIGNALING_UP</text>
<line x1="209.20" y1="317.84" x2="211.80" y2="317.84" stroke="#555555" stroke-width="0.8"/>
<text transform="translate(207.6,330.92) scale(0.929,1)" font-size="8.0" fill="#4D4D4D" text-anchor="end">HALLMARK_INTERFERON_GAMMA_RESPONSE</text>
<line x1="209.20" y1="328.02" x2="211.80" y2="328.02" stroke="#555555" stroke-width="0.8"/>
<text transform="translate(207.6,341.10) scale(0.929,1)" font-size="8.0" fill="#4D4D4D" text-anchor="end">HALLMARK_INTERFERON_ALPHA_RESPONSE</text>
<line x1="209.20" y1="338.20" x2="211.80" y2="338.20" stroke="#555555" stroke-width="0.8"/>
<text transform="translate(207.6,351.28) scale(0.929,1)" font-size="8.0" fill="#4D4D4D" text-anchor="end">HALLMARK_INFLAMMATORY_RESPONSE</text>
<line x1="209.20" y1="348.38" x2="211.80" y2="348.38" stroke="#555555" stroke-width="0.8"/>
<text transform="translate(207.6,361.46) scale(0.929,1)" font-size="8.0" fill="#4D4D4D" text-anchor="end">HALLMARK_IL6_JAK_STAT3_SIGNALING</text>
<line x1="209.20" y1="358.56" x2="211.80" y2="358.56" stroke="#555555" stroke-width="0.8"/>
<text transform="translate(207.6,371.64) scale(0.929,1)" font-size="8.0" fill="#4D4D4D" text-anchor="end">HALLMARK_IL2_STAT5_SIGNALING</text>
<line x1="209.20" y1="368.74" x2="211.80" y2="368.74" stroke="#555555" stroke-width="0.8"/>
<text transform="translate(207.6,381.82) scale(0.929,1)" font-size="8.0" fill="#4D4D4D" text-anchor="end">HALLMARK_HYPOXIA</text>
<line x1="209.20" y1="378.92" x2="211.80" y2="378.92" stroke="#555555" stroke-width="0.8"/>
<text transform="translate(207.6,392.00) scale(0.929,1)" font-size="8.0" fill="#4D4D4D" text-anchor="end">HALLMARK_HEME_METABOLISM</text>
<line x1="209.20" y1="389.10" x2="211.80" y2="389.10" stroke="#555555" stroke-width="0.8"/>
<text transform="translate(207.6,402.18) scale(0.929,1)" font-size="8.0" fill="#4D4D4D" text-anchor="end">HALLMARK_HEDGEHOG_SIGNALING</text>
<line x1="209.20" y1="399.28" x2="211.80" y2="399.28" stroke="#555555" stroke-width="0.8"/>
<text transform="translate(207.6,412.36) scale(0.929,1)" font-size="8.0" fill="#4D4D4D" text-anchor="end">HALLMARK_GLYCOLYSIS</text>
<line x1="209.20" y1="409.46" x2="211.80" y2="409.46" stroke="#555555" stroke-width="0.8"/>
<text transform="translate(207.6,422.54) scale(0.929,1)" font-size="8.0" fill="#4D4D4D" text-anchor="end">HALLMARK_G2M_CHECKPOINT</text>
<line x1="209.20" y1="419.64" x2="211.80" y2="419.64" stroke="#555555" stroke-width="0.8"/>
<text transform="translate(207.6,432.72) scale(0.929,1)" font-size="8.0" fill="#4D4D4D" text-anchor="end">HALLMARK_FATTY_ACID_METABOLISM</text>
<line x1="209.20" y1="429.82" x2="211.80" y2="429.82" stroke="#555555" stroke-width="0.8"/>
<text transform="translate(207.6,442.90) scale(0.929,1)" font-size="8.0" fill="#4D4D4D" text-anchor="end">HALLMARK_DNA_REPAIR</text>
<line x1="209.20" y1="440.00" x2="211.80" y2="440.00" stroke="#555555" stroke-width="0.8"/>
<text transform="translate(207.6,453.08) scale(0.929,1)" font-size="8.0" fill="#4D4D4D" text-anchor="end">HALLMARK_COMPLEMENT</text>
<line x1="209.20" y1="450.18" x2="211.80" y2="450.18" stroke="#555555" stroke-width="0.8"/>
<text transform="translate(207.6,463.26) scale(0.929,1)" font-size="8.0" fill="#4D4D4D" text-anchor="end">HALLMARK_COAGULATION</text>
<line x1="209.20" y1="460.36" x2="211.80" y2="460.36" stroke="#555555" stroke-width="0.8"/>
<text transform="translate(207.6,473.44) scale(0.929,1)" font-size="8.0" fill="#4D4D4D" text-anchor="end">HALLMARK_CHOLESTEROL_HOMEOSTASIS</text>
<line x1="209.20" y1="470.54" x2="211.80" y2="470.54" stroke="#555555" stroke-width="0.8"/>
<text transform="translate(207.6,483.62) scale(0.929,1)" font-size="8.0" fill="#4D4D4D" text-anchor="end">HALLMARK_BILE_ACID_METABOLISM</text>
<line x1="209.20" y1="480.72" x2="211.80" y2="480.72" stroke="#555555" stroke-width="0.8"/>
<text transform="translate(207.6,493.80) scale(0.929,1)" font-size="8.0" fill="#4D4D4D" text-anchor="end">HALLMARK_APICAL_JUNCTION</text>
<line x1="209.20" y1="490.90" x2="211.80" y2="490.90" stroke="#555555" stroke-width="0.8"/>
<text transform="translate(207.6,503.98) scale(0.929,1)" font-size="8.0" fill="#4D4D4D" text-anchor="end">HALLMARK_ALLOGRAFT_REJECTION</text>
<line x1="209.20" y1="501.08" x2="211.80" y2="501.08" stroke="#555555" stroke-width="0.8"/>
<text transform="translate(207.6,514.16) scale(0.929,1)" font-size="8.0" fill="#4D4D4D" text-anchor="end">HALLMARK_ADIPOGENESIS</text>
<line x1="209.20" y1="511.26" x2="211.80" y2="511.26" stroke="#555555" stroke-width="0.8"/>
<circle cx="236.60" cy="236.40" r="4.0" fill="#9568ff"/>
<circle cx="277.70" cy="236.40" r="4.0" fill="#8c5fff"/>
<circle cx="277.70" cy="246.58" r="4.0" fill="#ff7554"/>
<circle cx="236.60" cy="256.76" r="4.0" fill="#ff6c4b"/>
<circle cx="236.60" cy="266.94" r="4.0" fill="#9d71ff"/>
<circle cx="277.70" cy="266.94" r="4.0" fill="#ff8a6a"/>
<circle cx="236.60" cy="277.12" r="4.0" fill="#a87eff"/>
<circle cx="236.60" cy="287.30" r="4.0" fill="#0000ff"/>
<circle cx="277.70" cy="297.48" r="4.0" fill="#9d71ff"/>
<circle cx="318.80" cy="297.48" r="4.0" fill="#885bff"/>
<circle cx="236.60" cy="307.66" r="4.0" fill="#af87ff"/>
<circle cx="277.70" cy="317.84" r="4.0" fill="#ff8a6a"/>
<circle cx="318.80" cy="317.84" r="4.0" fill="#ff8e6f"/>
<circle cx="236.60" cy="328.02" r="4.0" fill="#9d71ff"/>
<circle cx="277.70" cy="328.02" r="4.0" fill="#ff7554"/>
<circle cx="318.80" cy="328.02" r="4.0" fill="#ff8261"/>
<circle cx="236.60" cy="338.20" r="4.0" fill="#a87eff"/>
<circle cx="277.70" cy="338.20" r="4.0" fill="#ff8261"/>
<circle cx="318.80" cy="338.20" r="4.0" fill="#ff8666"/>
<circle cx="277.70" cy="348.38" r="4.0" fill="#ff7e5d"/>
<circle cx="318.80" cy="348.38" r="4.0" fill="#ff8666"/>
<circle cx="277.70" cy="358.56" r="4.0" fill="#ff8261"/>
<circle cx="318.80" cy="358.56" r="4.0" fill="#ff8868"/>
<circle cx="277.70" cy="368.74" r="4.0" fill="#ff8868"/>
<circle cx="318.80" cy="368.74" r="4.0" fill="#ff8e6f"/>
<circle cx="277.70" cy="378.92" r="4.0" fill="#a87eff"/>
<circle cx="236.60" cy="389.10" r="4.0" fill="#9064ff"/>
<circle cx="236.60" cy="399.28" r="4.0" fill="#ff8868"/>
<circle cx="277.70" cy="409.46" r="4.0" fill="#af87ff"/>
<circle cx="236.60" cy="419.64" r="4.0" fill="#ff5939"/>
<circle cx="236.60" cy="429.82" r="4.0" fill="#693fff"/>
<circle cx="277.70" cy="429.82" r="4.0" fill="#996cff"/>
<circle cx="236.60" cy="440.00" r="4.0" fill="#ac82ff"/>
<circle cx="318.80" cy="450.18" r="4.0" fill="#ff8a6a"/>
<circle cx="277.70" cy="460.36" r="4.0" fill="#9d71ff"/>
<circle cx="277.70" cy="470.54" r="4.0" fill="#aa81ff"/>
<circle cx="236.60" cy="480.72" r="4.0" fill="#a175ff"/>
<circle cx="277.70" cy="480.72" r="4.0" fill="#a87eff"/>
<circle cx="236.60" cy="490.90" r="4.0" fill="#ff8a6a"/>
<circle cx="236.60" cy="501.08" r="4.0" fill="#966aff"/>
<circle cx="277.70" cy="501.08" r="4.0" fill="#ff7554"/>
<circle cx="318.80" cy="501.08" r="4.0" fill="#ff7958"/>
<circle cx="236.60" cy="511.26" r="4.0" fill="#7448ff"/>
<line x1="236.60" y1="516.80" x2="236.60" y2="519.60" stroke="#555555" stroke-width="0.8"/>
<line x1="277.70" y1="516.80" x2="277.70" y2="519.60" stroke="#555555" stroke-width="0.8"/>
<line x1="318.80" y1="516.80" x2="318.80" y2="519.60" stroke="#555555" stroke-width="0.8"/>
<text transform="translate(239.60,551.6) rotate(-90) scale(0.935,1)" font-size="8.0" fill="#4D4D4D" text-anchor="middle">Baseline vs C1D1</text>
<text transform="translate(280.70,551.6) rotate(-90) scale(0.935,1)" font-size="8.0" fill="#4D4D4D" text-anchor="middle">Baseline vs C2D1</text>
<text transform="translate(321.80,551.6) rotate(-90) scale(0.935,1)" font-size="8.0" fill="#4D4D4D" text-anchor="middle">C1D1 vs C2D1</text>
<text x="277.70" y="590.00" font-size="9.5" fill="#000" text-anchor="middle">comparison</text>
<text transform="translate(34.0,373.5) rotate(-90)" font-size="9.2" fill="#000" text-anchor="middle">pathway</text>
<text x="357.60" y="338.30" font-size="9.2" fill="#000">NES</text>
<rect x="357.2" y="343.8" width="14.9" height="74.2" fill="url(#nes)"/>
<line x1="357.20" y1="345.40" x2="360.20" y2="345.40" stroke="#FFFFFF" stroke-width="0.6"/>
<line x1="369.10" y1="345.40" x2="372.10" y2="345.40" stroke="#FFFFFF" stroke-width="0.6"/>
<text x="376.60" y="348.20" font-size="7.8" fill="#4D4D4D">2</text>
<line x1="357.20" y1="361.15" x2="360.20" y2="361.15" stroke="#FFFFFF" stroke-width="0.6"/>
<line x1="369.10" y1="361.15" x2="372.10" y2="361.15" stroke="#FFFFFF" stroke-width="0.6"/>
<text x="376.60" y="363.95" font-size="7.8" fill="#4D4D4D">1</text>
<line x1="357.20" y1="376.90" x2="360.20" y2="376.90" stroke="#FFFFFF" stroke-width="0.6"/>
<line x1="369.10" y1="376.90" x2="372.10" y2="376.90" stroke="#FFFFFF" stroke-width="0.6"/>
<text x="376.60" y="379.70" font-size="7.8" fill="#4D4D4D">0</text>
<line x1="357.20" y1="392.65" x2="360.20" y2="392.65" stroke="#FFFFFF" stroke-width="0.6"/>
<line x1="369.10" y1="392.65" x2="372.10" y2="392.65" stroke="#FFFFFF" stroke-width="0.6"/>
<text x="376.60" y="395.45" font-size="7.8" fill="#4D4D4D">-1</text>
<line x1="357.20" y1="408.40" x2="360.20" y2="408.40" stroke="#FFFFFF" stroke-width="0.6"/>
<line x1="369.10" y1="408.40" x2="372.10" y2="408.40" stroke="#FFFFFF" stroke-width="0.6"/>
<text x="376.60" y="411.20" font-size="7.8" fill="#4D4D4D">-2</text></svg>
</body></html>
